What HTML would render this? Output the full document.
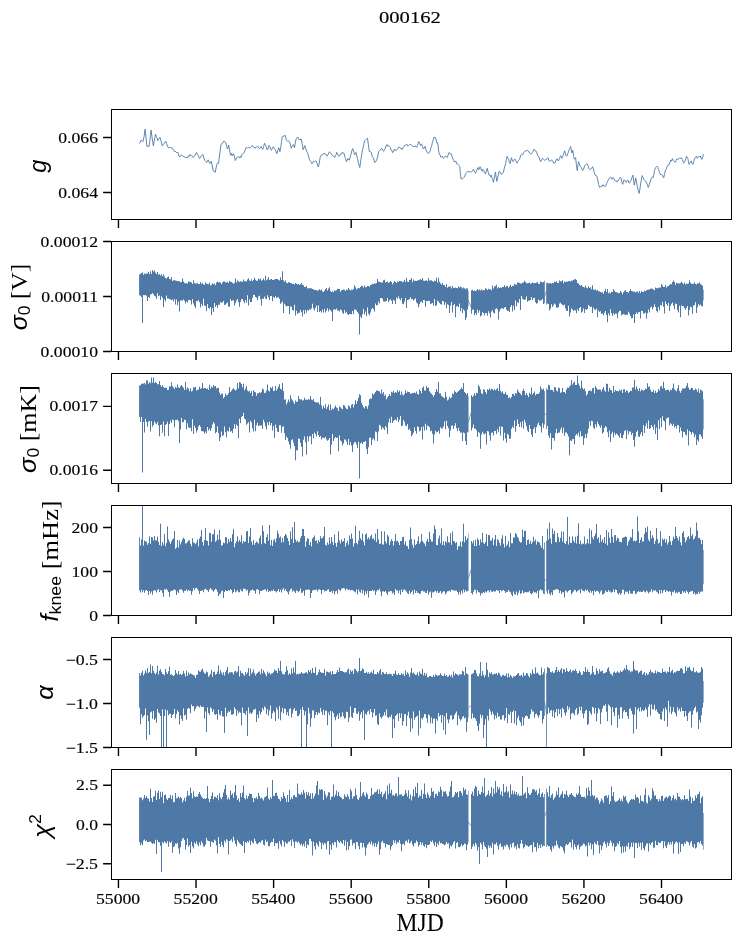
<!DOCTYPE html>
<html lang="en"><head><meta charset="utf-8"><title>000162</title>
<style>
html,body{margin:0;padding:0;background:#ffffff;}
body{width:741px;height:944px;overflow:hidden;}
svg{display:block;}
text{font-family:"Liberation Serif",serif;fill:#000000;}
.tk{font-size:14.8px;stroke:#000;stroke-width:0.16px;}
.ms{font-family:"Liberation Sans",sans-serif;font-style:italic;}
.mr{font-family:"Liberation Sans",sans-serif;font-style:normal;}
.sp{fill:none;stroke:#000000;stroke-width:1.1;shape-rendering:crispEdges;}
.ti{fill:none;stroke:#000000;stroke-width:1.4;}
.bd{fill:#4e79a7;stroke:none;}
.ln{fill:none;stroke:#4e79a7;stroke-width:0.9;stroke-linejoin:round;stroke-linecap:round;}
</style></head><body>
<svg width="741" height="944" viewBox="0 0 741 944">
<rect x="0" y="0" width="741" height="944" fill="#ffffff"/>
<defs>
<clipPath id="c0"><rect x="111.5" y="109.5" width="620.0" height="110.0"/></clipPath>
<clipPath id="c1"><rect x="111.5" y="241.5" width="620.0" height="110.0"/></clipPath>
<clipPath id="c2"><rect x="111.5" y="373.5" width="620.0" height="110.0"/></clipPath>
<clipPath id="c3"><rect x="111.5" y="505.5" width="620.0" height="110.0"/></clipPath>
<clipPath id="c4"><rect x="111.5" y="637.5" width="620.0" height="110.0"/></clipPath>
<clipPath id="c5"><rect x="111.5" y="769.5" width="620.0" height="110.0"/></clipPath>
</defs>
<g clip-path="url(#c0)"><path class="ln" d="M139.7,143.2 140.4,142.0 141.0,140.2 142.0,140.7 142.9,141.6 144.0,136.9 145.1,129.2 146.1,138.1 147.0,146.7 147.7,145.9 148.4,146.5 149.1,146.3 149.8,141.4 150.4,135.7 151.1,130.1 151.9,136.3 152.6,141.1 153.4,145.9 154.1,141.4 154.9,137.4 155.6,134.2 156.3,136.4 157.1,138.2 157.8,140.5 158.5,139.2 159.2,138.7 159.9,137.3 160.7,140.0 161.4,142.0 162.2,146.0 162.9,145.1 163.7,144.2 164.4,143.0 165.2,141.9 165.9,141.3 166.7,143.9 167.5,146.0 168.3,147.7 169.2,147.6 170.0,147.1 170.9,148.1 171.7,147.9 172.6,148.3 173.5,150.2 174.4,151.7 175.2,151.3 176.1,151.8 176.9,152.9 177.7,152.1 178.4,153.9 179.1,156.3 179.8,157.1 180.7,155.6 181.6,155.0 182.5,155.4 183.4,156.6 184.3,156.7 185.2,157.5 186.1,157.2 187.0,157.8 187.9,157.5 188.6,155.8 189.2,156.4 189.9,154.4 190.8,155.0 191.6,156.1 192.5,156.2 193.3,157.5 194.1,156.5 195.0,155.2 195.8,153.5 196.6,152.4 197.4,154.1 198.1,155.3 198.9,157.0 199.6,158.5 200.4,157.7 201.2,156.0 202.0,155.2 202.8,154.4 203.7,157.1 204.5,160.2 205.2,160.8 206.0,161.8 206.7,162.5 207.4,161.1 208.1,159.8 209.0,161.9 209.9,163.5 210.6,162.2 211.2,161.2 212.2,165.7 213.1,170.6 213.8,171.2 214.5,171.3 215.2,172.4 216.2,167.3 217.1,163.5 217.8,163.1 218.5,163.5 219.3,157.1 220.1,151.2 220.9,145.0 221.8,143.5 222.6,143.2 223.5,141.3 224.3,141.3 225.1,141.8 225.8,142.9 226.6,145.8 227.4,149.0 228.1,147.6 228.7,145.0 229.4,149.2 230.1,153.1 230.9,155.4 231.6,153.3 232.4,155.4 233.0,155.1 233.6,153.7 234.5,156.9 235.3,160.5 236.0,159.5 236.7,157.6 237.4,157.1 238.1,156.4 238.9,157.3 239.6,158.1 240.3,156.3 241.0,157.5 241.9,154.9 242.8,153.5 243.5,153.2 244.1,152.7 245.0,150.4 245.9,147.7 246.6,147.7 247.4,148.0 248.1,147.3 248.8,147.8 249.5,147.7 250.4,147.6 251.3,146.4 252.2,145.4 253.1,146.6 254.0,146.8 254.9,148.3 255.8,147.7 256.7,146.8 257.6,145.9 258.3,147.1 259.0,148.3 259.7,148.7 260.4,147.7 261.0,146.3 261.9,148.0 262.7,149.4 263.6,146.5 264.5,143.2 265.4,145.1 266.3,147.1 267.1,150.0 267.8,149.3 268.5,146.6 269.1,145.4 269.9,146.7 270.7,149.4 271.5,150.4 272.5,147.8 273.4,146.7 274.3,148.3 275.2,149.4 276.1,151.8 276.9,153.7 277.9,150.2 278.8,147.7 279.9,151.7 280.7,147.5 281.5,141.7 282.3,136.9 283.2,136.0 284.1,136.3 285.0,135.1 285.8,137.8 286.6,140.5 287.3,141.3 288.0,141.0 288.7,140.9 289.4,141.8 290.0,142.9 290.7,146.0 291.4,148.3 292.1,146.1 292.8,145.2 293.4,144.6 294.5,147.7 295.3,142.9 296.1,138.9 296.9,138.0 297.7,136.9 298.4,138.3 299.0,139.6 299.7,138.9 300.4,140.1 301.1,138.9 301.8,142.2 302.5,145.3 303.1,149.7 304.0,147.7 304.8,145.6 305.5,148.0 306.2,149.9 306.9,151.7 307.8,153.4 308.7,156.9 309.6,159.8 310.4,161.2 311.2,162.2 312.0,163.9 312.8,162.3 313.6,161.2 314.5,161.8 315.4,160.9 316.3,161.2 317.0,163.3 317.7,165.2 318.3,167.0 319.3,162.9 320.2,157.1 321.0,155.9 321.8,154.5 322.5,154.7 323.3,153.7 324.0,153.1 324.8,153.6 325.6,153.8 326.3,155.5 327.0,156.2 327.9,154.9 328.8,152.8 329.7,151.7 330.5,153.2 331.3,153.6 332.1,155.4 333.0,156.1 333.9,156.4 334.8,157.5 335.5,155.2 336.2,154.4 336.8,152.4 337.7,154.5 338.6,156.4 339.4,155.2 340.1,155.3 340.8,154.1 341.5,154.2 342.2,152.4 343.1,153.2 344.0,153.1 344.8,156.7 345.6,158.6 346.3,161.6 347.2,160.1 348.0,158.5 348.7,159.8 349.4,160.2 350.2,156.9 351.0,154.3 351.8,150.9 352.6,148.6 353.4,150.1 354.1,153.3 354.8,154.8 355.4,153.1 356.0,152.4 356.8,156.4 357.6,158.8 358.4,163.2 359.1,165.2 359.8,167.5 360.7,160.9 361.5,155.8 362.3,151.0 363.0,148.3 363.8,144.3 364.5,140.9 365.3,140.4 366.0,139.7 366.8,138.6 367.5,138.2 368.4,144.8 369.3,151.7 370.0,151.8 370.6,151.7 371.4,152.5 372.1,156.2 372.8,157.1 373.7,158.9 374.6,162.5 375.5,162.0 376.4,160.5 377.2,158.3 378.0,155.1 378.7,151.7 379.6,150.7 380.5,149.9 381.4,148.6 382.2,148.9 382.9,150.3 383.6,151.3 384.5,149.7 385.3,148.0 386.2,146.0 387.0,144.6 387.9,146.3 388.7,145.7 389.6,146.6 390.4,147.7 391.2,150.2 391.9,150.3 392.6,152.7 393.5,151.9 394.4,149.0 395.3,150.4 396.2,150.4 397.0,149.7 397.8,148.6 398.5,147.3 399.2,147.4 399.9,147.4 400.6,148.6 401.4,148.1 402.2,149.6 402.9,148.3 403.6,147.1 404.3,146.2 405.0,145.0 405.7,145.0 406.4,144.4 407.0,144.3 407.7,145.9 408.3,145.9 409.3,145.1 410.2,144.0 411.0,144.7 411.8,145.2 412.6,146.3 413.3,146.3 414.0,146.9 414.7,145.9 415.4,146.2 416.1,146.6 416.7,147.4 417.4,145.7 418.1,143.4 418.7,141.6 419.6,143.2 420.5,145.6 421.2,144.2 421.9,144.3 422.6,146.6 423.3,149.0 424.2,148.0 425.2,146.3 426.0,150.0 426.9,152.1 427.8,153.2 428.7,153.1 429.5,152.5 430.3,150.4 431.0,147.5 431.8,145.3 432.5,141.7 433.3,139.7 434.1,136.9 434.7,137.5 435.4,137.5 436.1,139.3 436.8,142.9 437.7,142.9 438.8,152.1 439.4,154.0 440.1,155.0 440.8,157.1 441.5,156.8 442.2,156.2 442.8,157.3 443.5,158.5 444.3,157.2 445.1,156.2 445.8,156.1 446.5,156.8 447.2,157.5 448.0,155.4 448.9,152.7 449.6,152.7 450.4,153.9 451.2,153.7 452.1,156.6 453.0,159.1 453.6,160.4 454.3,162.1 455.1,161.1 455.9,161.2 456.6,163.7 457.3,163.5 458.0,164.5 458.8,165.4 459.7,166.6 460.4,173.4 461.1,179.1 461.8,178.4 462.5,178.9 463.2,178.3 464.0,177.4 464.8,175.8 465.7,173.8 466.5,172.8 467.4,171.6 468.2,171.4 469.0,171.2 469.8,172.3 470.6,172.0 471.5,172.0 472.1,171.4 472.8,170.2 473.5,169.3 474.1,170.9 474.8,171.9 475.5,173.3 476.2,171.8 477.0,169.6 477.8,167.5 478.9,169.7 480.0,166.6 480.7,167.8 481.4,170.4 482.2,171.3 482.9,169.3 483.7,170.3 484.5,172.3 485.4,174.0 486.3,171.1 487.2,168.3 488.1,171.7 489.0,175.1 489.8,175.0 490.7,176.7 491.3,175.1 492.0,178.0 492.7,179.6 493.4,182.3 494.1,178.7 494.8,175.4 495.5,172.0 496.1,176.9 496.8,181.4 497.5,177.9 498.3,175.4 499.1,171.3 499.8,171.4 500.6,172.9 501.4,174.5 502.0,173.4 502.7,173.4 503.4,172.5 504.1,169.0 504.8,166.5 505.6,163.6 506.3,159.7 507.1,156.3 507.8,157.8 508.6,159.4 509.4,162.5 510.2,163.7 510.8,160.1 511.5,157.7 512.2,160.1 512.9,161.7 513.5,160.9 514.2,159.8 514.9,159.0 515.5,160.2 516.2,161.5 516.9,163.1 517.7,161.5 518.4,160.4 519.2,159.6 520.0,158.1 520.8,155.0 521.6,154.3 522.3,154.7 523.0,154.6 523.8,152.4 524.6,151.3 525.5,150.8 526.4,151.2 527.3,150.0 528.0,150.6 528.8,151.3 529.6,153.0 530.4,153.6 531.0,154.0 531.7,153.3 532.4,152.3 533.2,151.2 534.1,149.2 534.8,150.2 535.6,151.4 536.4,151.5 537.2,154.0 537.8,155.5 538.5,157.0 539.2,157.7 540.0,160.2 540.8,161.7 541.7,159.6 542.6,158.1 543.2,158.9 543.9,159.6 544.6,160.4 545.4,159.7 546.3,159.7 547.1,158.7 548.0,157.7 548.8,160.7 549.7,161.3 550.6,161.1 551.5,159.9 552.4,160.4 553.1,161.6 553.9,163.3 554.7,163.1 555.4,162.1 556.2,159.6 557.0,158.6 557.9,160.6 558.8,160.4 559.6,158.4 560.5,155.9 561.2,156.2 561.9,158.3 562.8,156.3 563.7,153.4 564.6,150.9 565.2,152.7 565.9,155.4 566.6,156.3 567.2,155.4 567.9,153.4 568.6,151.3 569.2,149.2 569.9,148.6 570.6,146.5 571.2,149.8 571.8,152.9 572.7,150.2 573.5,155.2 574.3,159.0 574.9,159.0 575.6,157.7 576.4,164.6 577.2,170.5 577.9,165.6 578.6,161.7 579.3,163.8 580.0,165.7 580.7,167.1 581.6,167.9 582.6,170.5 583.3,169.5 584.0,167.8 584.8,165.4 585.5,164.8 586.3,164.1 587.1,163.7 588.0,165.5 588.9,168.6 589.8,169.8 590.7,169.0 591.6,168.6 592.5,166.7 593.4,169.0 594.3,172.8 595.2,175.2 596.0,175.7 596.8,175.9 597.7,179.9 598.6,184.3 599.5,187.4 600.3,187.0 601.2,186.0 602.0,186.5 602.9,184.7 603.5,185.8 604.2,185.6 604.9,186.7 605.7,185.9 606.6,183.5 607.4,181.8 608.3,179.9 609.0,178.4 609.8,177.8 610.6,177.2 611.2,178.1 611.9,179.3 612.6,178.0 613.3,177.5 614.1,179.0 614.9,180.8 615.7,181.0 616.4,180.8 617.0,182.1 617.7,181.3 618.6,179.8 619.5,178.8 620.4,177.2 621.2,178.7 621.9,182.3 622.7,184.3 623.4,182.4 624.1,179.7 624.8,180.4 625.5,181.6 626.2,182.4 627.1,180.6 628.1,180.2 628.8,182.6 629.5,183.3 630.4,181.2 631.2,180.0 632.1,177.1 633.0,175.2 633.6,180.2 634.3,185.1 635.0,182.0 635.7,177.9 636.5,181.9 637.3,186.7 638.2,190.3 639.2,193.4 639.9,189.1 640.6,183.9 641.4,179.7 642.1,175.6 643.0,177.5 644.0,179.7 644.8,180.6 645.6,181.0 646.5,182.7 647.4,184.8 648.3,187.4 649.0,185.6 649.7,183.0 650.5,181.0 651.2,178.6 651.9,177.2 652.5,177.1 653.2,177.5 653.9,174.4 654.5,170.5 655.2,168.1 656.1,167.3 657.0,166.2 657.8,167.2 658.6,169.6 659.4,172.2 660.2,173.9 660.9,175.0 661.6,174.3 662.3,175.3 663.0,176.8 663.7,177.9 664.6,173.7 665.6,169.8 666.3,169.0 666.9,167.0 667.6,165.8 668.3,164.6 669.0,164.8 669.8,162.6 670.7,160.0 671.5,161.2 672.4,158.6 673.3,160.4 674.2,161.5 675.1,162.4 675.9,161.1 676.7,159.0 677.3,159.1 678.0,159.4 678.7,158.8 679.4,158.3 680.1,158.5 680.7,158.4 681.4,157.7 682.2,159.4 682.9,161.1 683.7,163.1 684.3,161.9 685.0,161.0 685.7,159.2 686.4,156.3 687.1,157.1 687.8,158.3 688.4,161.4 689.1,164.4 690.0,162.9 691.0,160.8 691.9,162.9 692.9,164.4 693.7,161.5 694.5,159.0 695.4,157.4 696.3,156.3 697.3,158.3 698.1,157.2 699.0,156.3 699.6,156.6 700.3,155.9 701.0,158.1 701.8,159.4 702.6,157.1 703.4,154.6"/></g>
<g clip-path="url(#c1)">
<path class="bd" d="M139.1,274.4V274.4H140.0V273.8H141.0V272.9H142.0V272.5H143.0V275.0H144.0V273.6H145.0V274.1H146.0V273.5H147.0V273.5H148.0V272.1H149.0V274.3H150.0V271.2H151.0V274.1H152.0V270.2H153.0V271.6H154.0V270.6H155.0V272.7H156.0V274.0H157.0V272.0H158.0V274.8H159.0V274.0H160.0V275.5H161.0V274.3H162.0V276.2H163.0V274.2H164.0V276.5H165.0V277.9H166.0V278.4H167.0V277.3H168.0V276.5H169.0V279.0H170.0V279.2H171.0V277.0H172.0V281.1H173.0V280.3H174.0V280.3H175.0V280.6H176.0V280.7H177.0V281.2H178.0V280.9H179.0V281.3H180.0V282.3H181.0V282.0H182.0V278.4H183.0V281.5H184.0V283.0H185.0V283.4H186.0V282.9H187.0V283.7H188.0V281.5H189.0V281.8H190.0V282.1H191.0V282.6H192.0V283.9H193.0V280.3H194.0V282.9H195.0V283.8H196.0V283.3H197.0V283.2H198.0V284.1H199.0V284.1H200.0V282.1H201.0V284.0H202.0V282.9H203.0V284.5H204.0V284.8H205.0V282.6H206.0V283.6H207.0V283.9H208.0V284.3H209.0V282.4H210.0V285.4H211.0V284.7H212.0V283.3H213.0V284.2H214.0V283.6H215.0V285.2H216.0V282.5H217.0V281.4H218.0V282.6H219.0V282.3H220.0V282.5H221.0V284.2H222.0V282.5H223.0V281.4H224.0V281.4H225.0V282.3H226.0V282.8H227.0V281.7H228.0V283.1H229.0V280.8H230.0V281.8H231.0V282.1H232.0V282.7H233.0V283.7H234.0V282.7H235.0V278.6H236.0V282.5H237.0V280.6H238.0V281.3H239.0V282.1H240.0V281.2H241.0V281.4H242.0V281.7H243.0V279.6H244.0V281.2H245.0V281.2H246.0V281.6H247.0V279.6H248.0V278.3H249.0V280.6H250.0V281.0H251.0V279.2H252.0V281.3H253.0V280.0H254.0V277.7H255.0V279.8H256.0V280.7H257.0V280.7H258.0V278.6H259.0V279.6H260.0V278.5H261.0V280.7H262.0V280.0H263.0V278.4H264.0V280.5H265.0V275.8H266.0V280.3H267.0V279.3H268.0V277.1H269.0V280.0H270.0V279.3H271.0V279.0H272.0V280.1H273.0V280.1H274.0V279.4H275.0V278.9H276.0V279.1H277.0V279.0H278.0V280.0H279.0V280.4H280.0V277.3H281.0V280.0H282.0V271.2H283.0V280.3H284.0V281.8H285.0V280.6H286.0V282.7H287.0V283.3H288.0V282.3H289.0V282.2H290.0V282.9H291.0V283.3H292.0V284.1H293.0V283.8H294.0V284.6H295.0V283.1H296.0V283.7H297.0V284.4H298.0V283.9H299.0V284.9H300.0V284.2H301.0V283.1H302.0V285.1H303.0V285.2H304.0V287.1H305.0V287.0H306.0V286.0H307.0V288.4H308.0V288.3H309.0V288.1H310.0V288.6H311.0V288.3H312.0V289.0H313.0V289.2H314.0V290.1H315.0V289.9H316.0V290.3H317.0V290.8H318.0V290.3H319.0V289.2H320.0V290.3H321.0V289.8H322.0V291.4H323.0V291.9H324.0V290.8H325.0V289.1H326.0V288.0H327.0V290.6H328.0V288.5H329.0V287.2H330.0V291.3H331.0V292.0H332.0V291.3H333.0V292.2H334.0V290.2H335.0V290.7H336.0V290.3H337.0V288.8H338.0V289.1H339.0V289.1H340.0V291.8H341.0V290.2H342.0V290.1H343.0V289.6H344.0V289.7H345.0V291.0H346.0V289.4H347.0V289.9H348.0V288.0H349.0V289.4H350.0V290.6H351.0V289.4H352.0V290.0H353.0V289.0H354.0V285.3H355.0V287.2H356.0V289.4H357.0V288.5H358.0V288.1H359.0V288.2H360.0V287.0H361.0V285.7H362.0V286.1H363.0V287.4H364.0V285.5H365.0V287.2H366.0V287.0H367.0V286.0H368.0V286.1H369.0V286.8H370.0V285.1H371.0V284.8H372.0V283.7H373.0V284.0H374.0V283.6H375.0V283.4H376.0V282.9H377.0V278.9H378.0V281.5H379.0V281.9H380.0V282.3H381.0V282.4H382.0V282.4H383.0V280.3H384.0V279.7H385.0V282.6H386.0V282.1H387.0V281.4H388.0V282.9H389.0V282.3H390.0V281.0H391.0V281.9H392.0V284.4H393.0V282.8H394.0V281.1H395.0V282.1H396.0V283.0H397.0V281.6H398.0V282.0H399.0V281.1H400.0V280.9H401.0V281.2H402.0V282.3H403.0V281.4H404.0V279.8H405.0V282.0H406.0V277.7H407.0V281.5H408.0V281.9H409.0V280.0H410.0V279.8H411.0V278.0H412.0V282.3H413.0V279.5H414.0V281.1H415.0V280.8H416.0V281.0H417.0V280.4H418.0V280.3H419.0V279.7H420.0V278.9H421.0V280.1H422.0V278.0H423.0V280.7H424.0V280.9H425.0V280.4H426.0V280.2H427.0V281.2H428.0V278.1H429.0V280.5H430.0V280.6H431.0V280.3H432.0V281.1H433.0V281.9H434.0V280.8H435.0V281.1H436.0V277.7H437.0V282.4H438.0V277.7H439.0V281.7H440.0V283.3H441.0V284.8H442.0V283.1H443.0V285.1H444.0V284.9H445.0V286.9H446.0V283.9H447.0V287.7H448.0V286.6H449.0V286.8H450.0V286.3H451.0V288.4H452.0V285.9H453.0V287.8H454.0V288.1H455.0V287.4H456.0V287.9H457.0V288.3H458.0V286.2H459.0V287.5H460.0V286.8H461.0V287.3H462.0V288.5H463.0V287.4H464.0V288.3H465.0V289.3H466.0V288.2H467.0V288.5H468.0V290.8H468.5V306.2V306.2H468.0V309.6H467.0V317.5H466.0V320.1H465.0V310.7H464.0V309.4H463.0V313.1H462.0V308.0H461.0V311.2H460.0V303.5H459.0V307.3H458.0V306.0H457.0V306.4H456.0V317.3H455.0V304.0H454.0V305.2H453.0V312.5H452.0V302.1H451.0V305.7H450.0V312.9H449.0V305.0H448.0V304.2H447.0V308.3H446.0V302.5H445.0V304.9H444.0V301.3H443.0V301.1H442.0V304.7H441.0V304.0H440.0V303.0H439.0V301.4H438.0V300.7H437.0V305.2H436.0V306.0H435.0V298.9H434.0V305.5H433.0V303.1H432.0V303.4H431.0V304.1H430.0V301.1H429.0V300.7H428.0V301.2H427.0V301.1H426.0V306.7H425.0V300.2H424.0V300.1H423.0V303.0H422.0V301.5H421.0V302.1H420.0V304.3H419.0V307.2H418.0V303.5H417.0V302.4H416.0V298.2H415.0V299.6H414.0V300.6H413.0V299.0H412.0V299.3H411.0V297.3H410.0V299.0H409.0V299.8H408.0V300.1H407.0V308.1H406.0V298.1H405.0V301.7H404.0V304.2H403.0V303.7H402.0V298.0H401.0V300.3H400.0V298.8H399.0V296.6H398.0V298.7H397.0V297.4H396.0V303.9H395.0V300.8H394.0V299.7H393.0V304.0H392.0V300.8H391.0V299.4H390.0V300.3H389.0V302.0H388.0V297.9H387.0V300.9H386.0V301.4H385.0V301.6H384.0V301.5H383.0V298.8H382.0V298.1H381.0V298.1H380.0V303.2H379.0V301.5H378.0V305.3H377.0V305.2H376.0V303.5H375.0V311.6H374.0V309.1H373.0V307.9H372.0V309.2H371.0V312.5H370.0V315.2H369.0V313.7H368.0V307.6H367.0V316.2H366.0V311.6H365.0V314.6H364.0V309.1H363.0V314.3H362.0V318.0H361.0V316.5H360.0V334.5H359.0V313.7H358.0V312.1H357.0V310.6H356.0V309.4H355.0V309.6H354.0V314.2H353.0V311.1H352.0V314.3H351.0V313.9H350.0V314.1H349.0V314.9H348.0V314.3H347.0V311.8H346.0V313.0H345.0V310.1H344.0V313.7H343.0V312.7H342.0V310.1H341.0V309.4H340.0V311.4H339.0V310.4H338.0V310.4H337.0V308.5H336.0V309.8H335.0V309.3H334.0V309.7H333.0V321.1H332.0V311.4H331.0V310.2H330.0V309.3H329.0V311.5H328.0V308.2H327.0V310.5H326.0V312.6H325.0V309.0H324.0V312.5H323.0V309.6H322.0V312.5H321.0V311.0H320.0V311.9H319.0V305.4H318.0V312.1H317.0V305.5H316.0V307.8H315.0V310.6H314.0V308.6H313.0V303.8H312.0V308.6H311.0V309.7H310.0V309.3H309.0V310.7H308.0V310.0H307.0V312.8H306.0V310.0H305.0V314.0H304.0V310.2H303.0V316.5H302.0V312.2H301.0V310.1H300.0V312.7H299.0V312.8H298.0V314.0H297.0V310.7H296.0V315.5H295.0V304.7H294.0V310.5H293.0V310.0H292.0V306.7H291.0V306.6H290.0V314.2H289.0V306.1H288.0V305.9H287.0V306.5H286.0V305.3H285.0V303.8H284.0V313.1H283.0V301.5H282.0V302.8H281.0V303.8H280.0V299.0H279.0V297.3H278.0V297.4H277.0V297.8H276.0V296.0H275.0V298.3H274.0V297.0H273.0V301.2H272.0V296.0H271.0V296.0H270.0V300.0H269.0V297.2H268.0V295.3H267.0V299.3H266.0V298.6H265.0V296.5H264.0V298.9H263.0V298.4H262.0V305.5H261.0V299.3H260.0V295.8H259.0V296.6H258.0V300.0H257.0V297.8H256.0V297.0H255.0V295.1H254.0V294.7H253.0V298.1H252.0V301.9H251.0V301.9H250.0V299.6H249.0V305.4H248.0V295.3H247.0V302.6H246.0V300.1H245.0V303.3H244.0V301.3H243.0V299.1H242.0V299.3H241.0V301.8H240.0V306.7H239.0V302.3H238.0V299.0H237.0V300.5H236.0V303.0H235.0V305.4H234.0V300.2H233.0V300.5H232.0V301.1H231.0V298.9H230.0V306.8H229.0V306.4H228.0V302.4H227.0V303.5H226.0V304.4H225.0V305.1H224.0V301.0H223.0V302.6H222.0V302.4H221.0V302.3H220.0V304.8H219.0V304.8H218.0V307.7H217.0V305.2H216.0V307.1H215.0V303.1H214.0V312.0H213.0V308.2H212.0V314.9H211.0V307.1H210.0V308.7H209.0V308.0H208.0V304.1H207.0V311.2H206.0V305.9H205.0V305.6H204.0V298.8H203.0V306.0H202.0V303.7H201.0V307.4H200.0V302.2H199.0V300.2H198.0V301.3H197.0V301.1H196.0V308.2H195.0V306.1H194.0V303.6H193.0V299.0H192.0V304.4H191.0V300.5H190.0V300.1H189.0V299.9H188.0V302.6H187.0V301.5H186.0V303.2H185.0V300.8H184.0V299.4H183.0V300.4H182.0V300.4H181.0V300.5H180.0V311.6H179.0V301.7H178.0V305.2H177.0V299.6H176.0V304.5H175.0V299.3H174.0V301.5H173.0V299.6H172.0V300.1H171.0V299.6H170.0V298.9H169.0V298.4H168.0V298.4H167.0V295.6H166.0V301.6H165.0V299.5H164.0V307.3H163.0V298.1H162.0V296.3H161.0V299.9H160.0V295.6H159.0V296.2H158.0V293.3H157.0V298.9H156.0V296.4H155.0V295.7H154.0V294.3H153.0V293.0H152.0V294.1H151.0V294.8H150.0V298.0H149.0V297.1H148.0V301.1H147.0V295.8H146.0V295.0H145.0V295.3H144.0V295.0H143.0V323.0H142.0V297.0H141.0V295.7H140.0V295.3H139.1Z"/>
<path class="bd" d="M471.0,290.2V290.2H472.0V289.7H473.0V291.0H474.0V290.4H475.0V290.9H476.0V290.6H477.0V289.0H478.0V290.3H479.0V289.4H480.0V290.4H481.0V289.4H482.0V290.4H483.0V289.9H484.0V290.3H485.0V288.2H486.0V288.7H487.0V290.0H488.0V288.8H489.0V289.4H490.0V289.3H491.0V290.2H492.0V285.6H493.0V288.5H494.0V286.6H495.0V285.9H496.0V284.7H497.0V288.6H498.0V287.1H499.0V288.1H500.0V287.5H501.0V287.7H502.0V287.1H503.0V287.1H504.0V285.3H505.0V287.2H506.0V286.1H507.0V285.9H508.0V287.8H509.0V286.4H510.0V284.8H511.0V286.8H512.0V285.8H513.0V286.0H514.0V283.7H515.0V284.6H516.0V284.8H517.0V282.4H518.0V282.5H519.0V282.9H520.0V283.5H521.0V283.6H522.0V282.7H523.0V282.5H524.0V280.8H525.0V282.0H526.0V283.3H527.0V283.3H528.0V282.9H529.0V282.5H530.0V284.1H531.0V283.3H532.0V282.4H533.0V283.1H534.0V283.3H535.0V283.0H536.0V282.7H537.0V282.0H538.0V283.7H539.0V284.1H540.0V281.3H541.0V282.1H542.0V282.6H543.0V282.1H544.0V280.7H544.8V303.3V303.3H544.0V303.9H543.0V298.9H542.0V300.3H541.0V300.6H540.0V300.7H539.0V299.6H538.0V302.9H537.0V303.7H536.0V302.3H535.0V297.7H534.0V298.2H533.0V300.0H532.0V296.9H531.0V300.0H530.0V300.6H529.0V300.8H528.0V301.8H527.0V296.6H526.0V299.2H525.0V300.1H524.0V299.4H523.0V298.7H522.0V296.1H521.0V310.0H520.0V299.0H519.0V303.1H518.0V302.3H517.0V306.3H516.0V300.5H515.0V310.0H514.0V305.8H513.0V311.6H512.0V305.0H511.0V306.9H510.0V312.0H509.0V310.8H508.0V310.9H507.0V309.8H506.0V307.1H505.0V307.5H504.0V309.0H503.0V308.2H502.0V308.3H501.0V309.2H500.0V311.4H499.0V319.4H498.0V309.4H497.0V308.2H496.0V308.9H495.0V313.5H494.0V312.7H493.0V310.3H492.0V311.4H491.0V317.6H490.0V313.3H489.0V311.2H488.0V315.7H487.0V313.2H486.0V313.0H485.0V315.4H484.0V313.0H483.0V312.2H482.0V315.5H481.0V316.5H480.0V310.4H479.0V312.8H478.0V309.8H477.0V314.7H476.0V313.1H475.0V315.3H474.0V309.4H473.0V309.8H472.0V313.7H471.0Z"/>
<path class="bd" d="M546.2,282.8V282.8H547.0V282.7H548.0V283.5H549.0V283.2H550.0V283.1H551.0V283.7H552.0V282.9H553.0V283.3H554.0V281.7H555.0V282.0H556.0V281.3H557.0V282.9H558.0V283.1H559.0V280.6H560.0V281.3H561.0V281.2H562.0V280.3H563.0V283.2H564.0V281.6H565.0V281.9H566.0V281.5H567.0V281.7H568.0V281.1H569.0V281.2H570.0V281.4H571.0V280.5H572.0V280.7H573.0V280.0H574.0V279.1H575.0V279.3H576.0V280.0H577.0V283.1H578.0V283.4H579.0V284.8H580.0V285.8H581.0V284.9H582.0V286.4H583.0V286.9H584.0V287.6H585.0V285.6H586.0V287.7H587.0V288.3H588.0V286.3H589.0V288.0H590.0V286.9H591.0V289.3H592.0V285.2H593.0V289.6H594.0V289.8H595.0V289.6H596.0V290.4H597.0V289.9H598.0V291.6H599.0V291.2H600.0V292.1H601.0V292.2H602.0V292.4H603.0V293.7H604.0V290.9H605.0V288.7H606.0V291.9H607.0V289.0H608.0V293.3H609.0V292.5H610.0V293.6H611.0V291.8H612.0V292.0H613.0V289.2H614.0V290.8H615.0V291.9H616.0V292.2H617.0V292.4H618.0V293.2H619.0V292.9H620.0V291.1H621.0V292.2H622.0V294.2H623.0V292.3H624.0V291.0H625.0V290.1H626.0V292.0H627.0V292.3H628.0V292.5H629.0V290.9H630.0V289.1H631.0V291.1H632.0V291.3H633.0V291.8H634.0V291.6H635.0V292.5H636.0V291.8H637.0V291.3H638.0V292.7H639.0V291.1H640.0V292.9H641.0V291.0H642.0V292.0H643.0V291.9H644.0V290.6H645.0V291.2H646.0V290.2H647.0V289.7H648.0V289.8H649.0V289.2H650.0V288.8H651.0V288.4H652.0V288.8H653.0V289.5H654.0V290.3H655.0V287.5H656.0V287.9H657.0V288.6H658.0V287.7H659.0V287.6H660.0V287.4H661.0V283.9H662.0V285.6H663.0V286.9H664.0V287.0H665.0V284.8H666.0V287.5H667.0V286.2H668.0V286.0H669.0V284.9H670.0V283.9H671.0V284.2H672.0V281.9H673.0V280.6H674.0V282.1H675.0V285.0H676.0V282.8H677.0V283.2H678.0V283.2H679.0V283.4H680.0V282.9H681.0V281.8H682.0V283.1H683.0V284.2H684.0V282.4H685.0V284.4H686.0V283.6H687.0V283.9H688.0V283.6H689.0V280.3H690.0V282.8H691.0V283.7H692.0V284.1H693.0V283.7H694.0V282.5H695.0V284.1H696.0V284.5H697.0V283.2H698.0V283.4H699.0V282.6H700.0V283.9H701.0V284.8H702.0V285.8H703.0V289.6H703.6V300.6V300.6H703.0V306.4H702.0V306.1H701.0V304.6H700.0V305.4H699.0V304.3H698.0V307.2H697.0V313.0H696.0V302.3H695.0V305.0H694.0V305.6H693.0V313.8H692.0V307.2H691.0V306.8H690.0V310.1H689.0V315.5H688.0V306.0H687.0V307.7H686.0V309.7H685.0V308.3H684.0V306.3H683.0V306.3H682.0V305.4H681.0V317.3H680.0V305.8H679.0V312.6H678.0V310.2H677.0V304.0H676.0V303.5H675.0V309.3H674.0V305.7H673.0V302.6H672.0V303.8H671.0V305.9H670.0V310.9H669.0V303.1H668.0V305.7H667.0V303.9H666.0V301.6H665.0V313.5H664.0V306.7H663.0V302.1H662.0V305.8H661.0V304.9H660.0V310.4H659.0V307.3H658.0V312.5H657.0V311.0H656.0V306.9H655.0V304.2H654.0V307.2H653.0V309.2H652.0V306.6H651.0V307.4H650.0V312.6H649.0V309.6H648.0V313.3H647.0V318.7H646.0V312.4H645.0V313.5H644.0V313.6H643.0V311.1H642.0V310.8H641.0V318.5H640.0V312.1H639.0V312.3H638.0V314.0H637.0V312.4H636.0V314.1H635.0V323.0H634.0V314.4H633.0V318.0H632.0V318.3H631.0V316.1H630.0V313.5H629.0V311.8H628.0V315.0H627.0V314.5H626.0V315.2H625.0V314.5H624.0V313.9H623.0V314.6H622.0V315.5H621.0V310.9H620.0V310.8H619.0V312.6H618.0V318.3H617.0V313.8H616.0V313.6H615.0V314.8H614.0V313.2H613.0V316.1H612.0V313.2H611.0V309.2H610.0V315.6H609.0V313.2H608.0V322.2H607.0V314.9H606.0V310.9H605.0V312.7H604.0V315.3H603.0V313.6H602.0V313.9H601.0V311.3H600.0V312.1H599.0V310.4H598.0V317.3H597.0V308.4H596.0V310.0H595.0V309.5H594.0V307.8H593.0V312.9H592.0V306.7H591.0V307.0H590.0V306.3H589.0V305.0H588.0V309.1H587.0V309.7H586.0V309.2H585.0V313.0H584.0V308.6H583.0V311.4H582.0V312.4H581.0V307.1H580.0V308.0H579.0V311.0H578.0V309.3H577.0V313.3H576.0V310.5H575.0V310.1H574.0V311.0H573.0V309.5H572.0V308.5H571.0V312.6H570.0V316.5H569.0V305.7H568.0V311.1H567.0V310.8H566.0V308.4H565.0V304.6H564.0V305.5H563.0V305.0H562.0V303.9H561.0V302.8H560.0V303.6H559.0V307.3H558.0V307.4H557.0V307.8H556.0V304.6H555.0V303.6H554.0V305.3H553.0V307.0H552.0V304.2H551.0V308.7H550.0V310.4H549.0V304.0H548.0V303.6H547.0V304.6H546.2Z"/>
<path class="ln" style="stroke-width:0.7" d="M468.2,300.4 L471.3,307.6"/>
<path class="ln" style="stroke-width:0.7" d="M544.5,296.8 L546.5,290.6"/>
</g>
<g clip-path="url(#c2)">
<path class="bd" d="M139.1,385.5V385.5H140.0V385.2H141.0V384.1H142.0V383.2H143.0V383.8H144.0V383.0H145.0V384.5H146.0V380.6H147.0V380.5H148.0V383.7H149.0V382.0H150.0V383.3H151.0V377.6H152.0V382.4H153.0V377.6H154.0V383.0H155.0V381.9H156.0V383.1H157.0V384.2H158.0V384.2H159.0V381.1H160.0V385.0H161.0V386.8H162.0V385.3H163.0V387.1H164.0V388.1H165.0V387.7H166.0V387.7H167.0V389.9H168.0V389.7H169.0V386.3H170.0V386.4H171.0V382.3H172.0V386.3H173.0V387.5H174.0V389.0H175.0V386.7H176.0V387.7H177.0V384.5H178.0V387.4H179.0V388.0H180.0V386.3H181.0V384.9H182.0V386.6H183.0V387.7H184.0V389.9H185.0V382.0H186.0V389.5H187.0V387.3H188.0V388.4H189.0V391.2H190.0V388.2H191.0V391.5H192.0V390.8H193.0V387.3H194.0V387.4H195.0V386.7H196.0V390.5H197.0V389.8H198.0V389.7H199.0V386.7H200.0V388.7H201.0V388.2H202.0V383.1H203.0V388.6H204.0V388.1H205.0V387.9H206.0V388.9H207.0V388.6H208.0V390.1H209.0V384.8H210.0V388.8H211.0V386.8H212.0V387.5H213.0V385.0H214.0V386.5H215.0V385.9H216.0V388.5H217.0V388.1H218.0V387.8H219.0V392.6H220.0V395.1H221.0V393.8H222.0V393.4H223.0V398.2H224.0V396.9H225.0V393.6H226.0V395.3H227.0V395.1H228.0V393.2H229.0V387.0H230.0V391.9H231.0V390.4H232.0V389.3H233.0V388.3H234.0V389.6H235.0V390.5H236.0V389.6H237.0V383.1H238.0V388.3H239.0V381.9H240.0V382.6H241.0V384.1H242.0V387.3H243.0V383.8H244.0V390.2H245.0V388.4H246.0V385.9H247.0V390.4H248.0V391.5H249.0V390.8H250.0V393.1H251.0V390.9H252.0V396.0H253.0V390.2H254.0V391.7H255.0V392.3H256.0V395.7H257.0V393.3H258.0V393.2H259.0V392.3H260.0V392.9H261.0V391.8H262.0V388.6H263.0V389.5H264.0V393.1H265.0V392.8H266.0V390.4H267.0V384.6H268.0V390.4H269.0V391.4H270.0V387.2H271.0V388.3H272.0V386.4H273.0V390.9H274.0V390.8H275.0V386.1H276.0V390.4H277.0V388.7H278.0V386.8H279.0V384.2H280.0V388.7H281.0V389.5H282.0V383.0H283.0V391.0H284.0V399.8H285.0V399.3H286.0V404.6H287.0V402.3H288.0V399.5H289.0V401.8H290.0V395.2H291.0V398.7H292.0V400.2H293.0V401.9H294.0V404.1H295.0V400.5H296.0V402.1H297.0V401.6H298.0V396.1H299.0V399.1H300.0V399.4H301.0V399.3H302.0V400.6H303.0V400.2H304.0V397.8H305.0V399.8H306.0V399.5H307.0V400.0H308.0V398.9H309.0V399.7H310.0V395.9H311.0V399.5H312.0V400.3H313.0V399.0H314.0V401.7H315.0V402.2H316.0V402.4H317.0V402.5H318.0V402.6H319.0V404.4H320.0V397.1H321.0V405.6H322.0V408.8H323.0V405.7H324.0V408.1H325.0V404.2H326.0V409.1H327.0V407.0H328.0V404.4H329.0V410.2H330.0V404.6H331.0V410.3H332.0V408.6H333.0V409.3H334.0V407.4H335.0V405.6H336.0V407.4H337.0V408.2H338.0V410.9H339.0V406.5H340.0V407.3H341.0V408.4H342.0V409.3H343.0V404.9H344.0V405.4H345.0V407.5H346.0V408.8H347.0V409.2H348.0V405.6H349.0V406.2H350.0V408.2H351.0V404.8H352.0V404.1H353.0V407.5H354.0V404.4H355.0V400.3H356.0V403.7H357.0V401.0H358.0V397.7H359.0V394.3H360.0V395.2H361.0V402.7H362.0V404.9H363.0V407.2H364.0V408.4H365.0V406.1H366.0V406.6H367.0V408.8H368.0V405.5H369.0V399.3H370.0V398.5H371.0V398.5H372.0V393.6H373.0V394.7H374.0V393.4H375.0V392.0H376.0V390.4H377.0V390.6H378.0V390.9H379.0V391.4H380.0V393.6H381.0V389.4H382.0V393.7H383.0V391.9H384.0V395.8H385.0V394.4H386.0V399.2H387.0V397.2H388.0V396.0H389.0V394.1H390.0V395.9H391.0V391.8H392.0V392.6H393.0V390.7H394.0V393.0H395.0V392.1H396.0V392.7H397.0V390.1H398.0V392.1H399.0V390.6H400.0V394.9H401.0V391.5H402.0V394.4H403.0V395.5H404.0V394.0H405.0V390.3H406.0V393.0H407.0V391.5H408.0V392.0H409.0V391.9H410.0V393.7H411.0V393.6H412.0V393.0H413.0V393.1H414.0V392.5H415.0V393.2H416.0V391.5H417.0V393.9H418.0V394.6H419.0V389.5H420.0V391.0H421.0V393.3H422.0V387.8H423.0V386.4H424.0V390.4H425.0V390.4H426.0V386.1H427.0V387.9H428.0V387.4H429.0V391.3H430.0V392.7H431.0V393.8H432.0V394.9H433.0V396.7H434.0V395.0H435.0V391.9H436.0V389.1H437.0V391.5H438.0V381.9H439.0V393.5H440.0V393.5H441.0V395.9H442.0V396.7H443.0V397.6H444.0V398.2H445.0V391.8H446.0V396.7H447.0V400.6H448.0V399.6H449.0V396.8H450.0V398.2H451.0V397.6H452.0V393.5H453.0V394.3H454.0V390.7H455.0V391.9H456.0V393.1H457.0V391.8H458.0V391.2H459.0V389.9H460.0V389.3H461.0V387.5H462.0V388.9H463.0V383.0H464.0V392.0H465.0V392.9H466.0V394.4H467.0V393.1H468.0V396.2H468.5V432.6V432.6H468.0V432.2H467.0V444.9H466.0V440.9H465.0V433.2H464.0V432.5H463.0V440.9H462.0V432.5H461.0V432.8H460.0V430.9H459.0V428.0H458.0V431.3H457.0V428.2H456.0V423.3H455.0V425.9H454.0V429.1H453.0V425.5H452.0V425.7H451.0V430.5H450.0V437.2H449.0V428.3H448.0V425.9H447.0V420.8H446.0V429.2H445.0V421.5H444.0V426.6H443.0V428.4H442.0V428.5H441.0V427.2H440.0V433.8H439.0V430.8H438.0V432.0H437.0V432.5H436.0V430.8H435.0V434.6H434.0V443.4H433.0V433.8H432.0V430.5H431.0V431.2H430.0V427.2H429.0V425.9H428.0V425.4H427.0V429.9H426.0V423.7H425.0V430.4H424.0V426.4H423.0V439.6H422.0V426.9H421.0V430.5H420.0V431.4H419.0V427.0H418.0V426.4H417.0V433.8H416.0V430.9H415.0V427.2H414.0V432.8H413.0V434.8H412.0V436.2H411.0V431.1H410.0V428.8H409.0V429.9H408.0V424.1H407.0V426.3H406.0V425.6H405.0V421.8H404.0V420.0H403.0V425.7H402.0V426.0H401.0V416.0H400.0V419.8H399.0V422.0H398.0V417.2H397.0V420.6H396.0V419.5H395.0V420.1H394.0V420.9H393.0V423.0H392.0V416.7H391.0V423.1H390.0V418.4H389.0V422.4H388.0V433.9H387.0V427.4H386.0V426.1H385.0V429.9H384.0V428.4H383.0V427.2H382.0V429.5H381.0V425.8H380.0V424.8H379.0V431.4H378.0V440.9H377.0V432.2H376.0V431.4H375.0V440.6H374.0V438.2H373.0V439.5H372.0V444.9H371.0V437.4H370.0V437.7H369.0V447.2H368.0V454.0H367.0V449.1H366.0V441.0H365.0V441.9H364.0V441.9H363.0V444.1H362.0V442.5H361.0V443.6H360.0V478.4H359.0V441.7H358.0V447.9H357.0V444.5H356.0V442.1H355.0V442.3H354.0V444.2H353.0V451.9H352.0V445.6H351.0V442.0H350.0V445.1H349.0V438.9H348.0V444.8H347.0V441.4H346.0V439.6H345.0V439.5H344.0V443.4H343.0V445.4H342.0V441.4H341.0V440.5H340.0V435.5H339.0V451.3H338.0V437.6H337.0V438.1H336.0V436.9H335.0V438.5H334.0V441.0H333.0V434.1H332.0V444.8H331.0V454.6H330.0V438.1H329.0V439.8H328.0V440.8H327.0V439.6H326.0V436.9H325.0V438.2H324.0V437.7H323.0V437.8H322.0V439.6H321.0V436.0H320.0V437.0H319.0V435.0H318.0V431.2H317.0V436.5H316.0V434.2H315.0V432.5H314.0V438.2H313.0V434.1H312.0V444.2H311.0V436.2H310.0V436.4H309.0V441.2H308.0V436.2H307.0V454.8H306.0V442.2H305.0V436.4H304.0V439.7H303.0V456.4H302.0V446.7H301.0V442.7H300.0V439.1H299.0V438.4H298.0V450.2H297.0V450.3H296.0V460.3H295.0V446.0H294.0V442.8H293.0V439.3H292.0V440.2H291.0V448.7H290.0V444.5H289.0V441.6H288.0V438.1H287.0V436.6H286.0V440.0H285.0V433.0H284.0V426.5H283.0V426.7H282.0V432.7H281.0V425.2H280.0V425.2H279.0V431.9H278.0V431.5H277.0V428.1H276.0V424.5H275.0V438.0H274.0V426.3H273.0V430.5H272.0V423.1H271.0V425.5H270.0V421.8H269.0V424.9H268.0V422.2H267.0V429.6H266.0V426.2H265.0V422.2H264.0V419.7H263.0V428.9H262.0V425.4H261.0V425.4H260.0V425.5H259.0V426.0H258.0V422.8H257.0V425.3H256.0V431.2H255.0V419.8H254.0V431.4H253.0V428.3H252.0V422.4H251.0V420.7H250.0V432.4H249.0V422.3H248.0V423.5H247.0V424.7H246.0V419.4H245.0V418.6H244.0V412.7H243.0V415.9H242.0V416.9H241.0V423.2H240.0V418.7H239.0V438.3H238.0V426.0H237.0V424.6H236.0V428.7H235.0V424.2H234.0V428.8H233.0V433.1H232.0V431.0H231.0V431.8H230.0V427.4H229.0V431.4H228.0V430.8H227.0V437.2H226.0V432.2H225.0V426.4H224.0V435.2H223.0V436.1H222.0V431.5H221.0V437.4H220.0V440.9H219.0V433.1H218.0V426.2H217.0V432.1H216.0V433.3H215.0V423.4H214.0V422.0H213.0V424.4H212.0V428.3H211.0V430.9H210.0V428.7H209.0V430.6H208.0V427.0H207.0V433.2H206.0V431.4H205.0V433.7H204.0V431.4H203.0V431.2H202.0V431.0H201.0V426.8H200.0V425.1H199.0V426.6H198.0V429.9H197.0V432.4H196.0V428.1H195.0V425.7H194.0V434.0H193.0V419.3H192.0V431.2H191.0V427.8H190.0V428.1H189.0V427.3H188.0V423.2H187.0V429.3H186.0V420.1H185.0V419.8H184.0V422.1H183.0V422.5H182.0V417.9H181.0V429.4H180.0V443.0H179.0V421.2H178.0V419.4H177.0V419.9H176.0V420.0H175.0V427.2H174.0V420.3H173.0V419.5H172.0V423.0H171.0V420.8H170.0V424.0H169.0V436.0H168.0V421.7H167.0V423.9H166.0V424.9H165.0V436.3H164.0V421.5H163.0V432.8H162.0V424.6H161.0V425.1H160.0V436.3H159.0V425.4H158.0V422.1H157.0V424.3H156.0V423.3H155.0V421.6H154.0V424.9H153.0V426.6H152.0V421.3H151.0V431.6H150.0V421.0H149.0V421.6H148.0V426.8H147.0V422.0H146.0V419.0H145.0V432.6H144.0V421.9H143.0V472.6H142.0V417.0H141.0V422.0H140.0V416.7H139.1Z"/>
<path class="bd" d="M471.0,395.3V395.3H472.0V396.9H473.0V395.8H474.0V393.2H475.0V395.4H476.0V392.7H477.0V393.0H478.0V385.0H479.0V386.8H480.0V389.5H481.0V393.2H482.0V394.0H483.0V389.2H484.0V390.0H485.0V392.0H486.0V393.7H487.0V389.2H488.0V389.9H489.0V388.3H490.0V390.3H491.0V388.8H492.0V389.3H493.0V390.5H494.0V389.2H495.0V390.2H496.0V389.3H497.0V388.0H498.0V390.9H499.0V384.0H500.0V390.7H501.0V392.4H502.0V391.2H503.0V393.7H504.0V394.1H505.0V391.7H506.0V394.7H507.0V394.8H508.0V397.9H509.0V397.3H510.0V398.4H511.0V397.0H512.0V394.0H513.0V393.8H514.0V395.8H515.0V392.9H516.0V393.6H517.0V389.4H518.0V391.6H519.0V392.8H520.0V393.7H521.0V395.2H522.0V390.9H523.0V388.8H524.0V390.9H525.0V395.2H526.0V392.9H527.0V395.1H528.0V396.9H529.0V392.7H530.0V394.2H531.0V387.4H532.0V394.6H533.0V393.0H534.0V391.5H535.0V395.3H536.0V393.9H537.0V393.8H538.0V393.9H539.0V392.4H540.0V386.6H541.0V388.8H542.0V389.8H543.0V388.6H544.0V390.9H544.8V424.4V424.4H544.0V427.8H543.0V423.2H542.0V432.6H541.0V426.5H540.0V425.2H539.0V422.4H538.0V424.6H537.0V427.3H536.0V433.0H535.0V427.2H534.0V429.1H533.0V437.0H532.0V434.4H531.0V429.1H530.0V425.1H529.0V432.1H528.0V430.4H527.0V426.2H526.0V422.6H525.0V419.7H524.0V428.7H523.0V421.2H522.0V427.3H521.0V422.3H520.0V427.0H519.0V424.1H518.0V419.5H517.0V426.0H516.0V431.7H515.0V420.5H514.0V428.1H513.0V426.5H512.0V428.8H511.0V438.4H510.0V439.0H509.0V434.8H508.0V433.8H507.0V442.7H506.0V438.6H505.0V432.7H504.0V440.6H503.0V427.1H502.0V426.5H501.0V435.4H500.0V426.5H499.0V432.3H498.0V429.3H497.0V434.0H496.0V431.0H495.0V431.0H494.0V435.4H493.0V432.4H492.0V432.8H491.0V440.7H490.0V435.6H489.0V431.5H488.0V430.9H487.0V444.5H486.0V433.2H485.0V434.6H484.0V433.4H483.0V431.7H482.0V434.7H481.0V448.8H480.0V433.0H479.0V431.9H478.0V436.9H477.0V430.2H476.0V428.4H475.0V428.9H474.0V424.6H473.0V427.7H472.0V430.6H471.0Z"/>
<path class="bd" d="M546.2,388.2V388.2H547.0V389.8H548.0V384.8H549.0V385.5H550.0V390.1H551.0V389.7H552.0V389.9H553.0V391.8H554.0V387.0H555.0V387.3H556.0V390.6H557.0V391.4H558.0V387.5H559.0V388.3H560.0V392.7H561.0V392.3H562.0V388.0H563.0V392.0H564.0V391.9H565.0V393.6H566.0V389.5H567.0V387.4H568.0V388.0H569.0V386.6H570.0V385.6H571.0V380.0H572.0V384.6H573.0V382.8H574.0V381.4H575.0V385.1H576.0V384.9H577.0V375.4H578.0V383.6H579.0V385.7H580.0V388.5H581.0V380.4H582.0V387.7H583.0V389.5H584.0V388.6H585.0V391.3H586.0V395.6H587.0V394.0H588.0V391.0H589.0V390.4H590.0V390.6H591.0V391.3H592.0V388.3H593.0V387.7H594.0V393.4H595.0V385.9H596.0V388.0H597.0V389.4H598.0V389.4H599.0V389.5H600.0V389.8H601.0V391.6H602.0V389.0H603.0V387.1H604.0V390.6H605.0V391.8H606.0V383.5H607.0V383.9H608.0V391.4H609.0V387.8H610.0V389.7H611.0V390.2H612.0V392.9H613.0V386.0H614.0V391.7H615.0V390.1H616.0V390.9H617.0V390.9H618.0V391.6H619.0V389.7H620.0V390.8H621.0V389.6H622.0V392.9H623.0V389.6H624.0V389.3H625.0V392.2H626.0V390.2H627.0V390.9H628.0V392.9H629.0V392.0H630.0V390.7H631.0V390.9H632.0V387.4H633.0V387.4H634.0V379.7H635.0V389.4H636.0V386.2H637.0V389.1H638.0V391.0H639.0V387.9H640.0V391.2H641.0V389.4H642.0V389.9H643.0V390.8H644.0V390.0H645.0V388.6H646.0V389.1H647.0V383.3H648.0V387.1H649.0V386.3H650.0V389.7H651.0V391.7H652.0V392.1H653.0V390.1H654.0V393.1H655.0V390.8H656.0V393.1H657.0V392.1H658.0V389.0H659.0V390.6H660.0V386.5H661.0V385.9H662.0V388.4H663.0V381.7H664.0V388.1H665.0V390.3H666.0V389.9H667.0V389.8H668.0V389.8H669.0V391.5H670.0V389.8H671.0V390.2H672.0V388.1H673.0V383.6H674.0V389.3H675.0V390.5H676.0V391.3H677.0V388.5H678.0V385.0H679.0V390.8H680.0V392.7H681.0V390.7H682.0V388.5H683.0V388.6H684.0V388.5H685.0V387.9H686.0V385.7H687.0V383.1H688.0V387.5H689.0V389.7H690.0V389.3H691.0V387.8H692.0V387.9H693.0V390.3H694.0V389.9H695.0V388.5H696.0V389.4H697.0V391.7H698.0V388.6H699.0V393.0H700.0V389.4H701.0V390.3H702.0V391.2H703.0V399.2H703.6V429.6V429.6H703.0V438.9H702.0V436.7H701.0V434.4H700.0V434.6H699.0V441.7H698.0V439.7H697.0V445.0H696.0V434.7H695.0V437.3H694.0V433.3H693.0V432.0H692.0V434.6H691.0V431.9H690.0V431.0H689.0V445.6H688.0V429.6H687.0V435.6H686.0V434.5H685.0V432.0H684.0V431.7H683.0V437.6H682.0V431.0H681.0V427.4H680.0V432.4H679.0V425.6H678.0V425.0H677.0V428.4H676.0V426.0H675.0V427.6H674.0V423.8H673.0V426.1H672.0V424.3H671.0V423.2H670.0V425.6H669.0V417.6H668.0V417.7H667.0V418.6H666.0V430.3H665.0V421.4H664.0V420.5H663.0V416.2H662.0V427.3H661.0V417.9H660.0V429.0H659.0V420.2H658.0V440.0H657.0V427.8H656.0V433.9H655.0V424.4H654.0V429.8H653.0V427.1H652.0V425.1H651.0V428.3H650.0V429.0H649.0V420.6H648.0V428.6H647.0V423.3H646.0V426.3H645.0V433.1H644.0V424.9H643.0V436.1H642.0V432.0H641.0V434.3H640.0V437.0H639.0V436.6H638.0V430.4H637.0V431.9H636.0V436.8H635.0V446.7H634.0V439.9H633.0V432.9H632.0V435.1H631.0V431.5H630.0V431.4H629.0V434.5H628.0V430.6H627.0V439.3H626.0V430.2H625.0V431.1H624.0V434.7H623.0V437.9H622.0V437.9H621.0V433.2H620.0V437.4H619.0V435.7H618.0V434.4H617.0V433.4H616.0V435.0H615.0V432.7H614.0V437.4H613.0V431.8H612.0V433.9H611.0V442.0H610.0V430.4H609.0V437.2H608.0V432.3H607.0V427.3H606.0V426.1H605.0V428.0H604.0V432.3H603.0V433.5H602.0V425.4H601.0V427.7H600.0V426.0H599.0V424.1H598.0V421.8H597.0V427.2H596.0V424.3H595.0V429.0H594.0V427.4H593.0V421.3H592.0V420.8H591.0V425.8H590.0V421.6H589.0V428.7H588.0V433.3H587.0V438.0H586.0V434.3H585.0V438.2H584.0V444.9H583.0V436.0H582.0V436.5H581.0V431.3H580.0V437.0H579.0V432.7H578.0V435.2H577.0V434.0H576.0V435.6H575.0V444.3H574.0V439.1H573.0V439.2H572.0V441.0H571.0V440.6H570.0V455.3H569.0V436.5H568.0V434.1H567.0V432.4H566.0V432.4H565.0V435.7H564.0V427.8H563.0V433.2H562.0V427.4H561.0V429.5H560.0V432.4H559.0V432.7H558.0V433.6H557.0V428.7H556.0V433.1H555.0V440.7H554.0V438.1H553.0V438.0H552.0V449.5H551.0V433.2H550.0V438.1H549.0V435.5H548.0V425.9H547.0V429.0H546.2Z"/>
<path class="ln" style="stroke-width:0.7" d="M468.2,422.6 L471.3,412.4"/>
<path class="ln" style="stroke-width:0.7" d="M544.5,415.4 L546.5,413.2"/>
</g>
<g clip-path="url(#c3)">
<path class="bd" d="M139.1,537.3V537.3H140.0V545.4H141.0V539.6H142.0V505.5H143.0V545.4H144.0V540.5H145.0V541.4H146.0V541.5H147.0V544.8H148.0V543.0H149.0V536.3H150.0V543.8H151.0V537.0H152.0V537.4H153.0V540.5H154.0V536.1H155.0V540.3H156.0V540.4H157.0V536.5H158.0V541.8H159.0V545.1H160.0V523.8H161.0V545.9H162.0V542.0H163.0V544.8H164.0V534.0H165.0V546.3H166.0V542.9H167.0V526.4H168.0V539.4H169.0V541.7H170.0V544.0H171.0V541.3H172.0V539.6H173.0V538.5H174.0V531.0H175.0V548.8H176.0V547.6H177.0V540.1H178.0V547.5H179.0V540.4H180.0V544.4H181.0V541.9H182.0V539.6H183.0V537.8H184.0V538.9H185.0V543.4H186.0V543.2H187.0V542.1H188.0V540.6H189.0V540.2H190.0V543.8H191.0V546.3H192.0V538.2H193.0V542.5H194.0V542.9H195.0V544.3H196.0V542.5H197.0V539.5H198.0V546.2H199.0V538.4H200.0V536.5H201.0V530.0H202.0V542.1H203.0V545.6H204.0V540.0H205.0V528.0H206.0V540.6H207.0V541.0H208.0V545.5H209.0V532.8H210.0V533.3H211.0V541.8H212.0V534.3H213.0V534.2H214.0V529.6H215.0V541.8H216.0V540.6H217.0V534.5H218.0V539.7H219.0V530.0H220.0V539.8H221.0V545.7H222.0V545.0H223.0V542.5H224.0V543.3H225.0V537.1H226.0V537.5H227.0V543.5H228.0V539.3H229.0V541.8H230.0V538.0H231.0V541.5H232.0V534.2H233.0V529.0H234.0V547.3H235.0V543.3H236.0V541.3H237.0V536.2H238.0V541.8H239.0V540.0H240.0V541.8H241.0V535.3H242.0V543.4H243.0V541.1H244.0V542.1H245.0V541.6H246.0V531.6H247.0V531.0H248.0V542.9H249.0V536.4H250.0V528.0H251.0V541.6H252.0V544.7H253.0V540.1H254.0V544.7H255.0V542.9H256.0V541.4H257.0V542.4H258.0V543.4H259.0V537.9H260.0V535.6H261.0V544.2H262.0V525.6H263.0V531.2H264.0V543.1H265.0V543.7H266.0V537.0H267.0V534.2H268.0V540.7H269.0V525.0H270.0V545.2H271.0V539.9H272.0V545.9H273.0V540.6H274.0V539.0H275.0V542.3H276.0V538.3H277.0V530.8H278.0V533.8H279.0V537.7H280.0V536.5H281.0V542.5H282.0V537.9H283.0V542.2H284.0V536.1H285.0V533.9H286.0V535.3H287.0V537.9H288.0V541.1H289.0V545.1H290.0V531.3H291.0V539.0H292.0V527.2H293.0V543.1H294.0V522.0H295.0V539.6H296.0V541.8H297.0V540.4H298.0V542.3H299.0V541.8H300.0V538.2H301.0V536.1H302.0V528.9H303.0V529.0H304.0V536.1H305.0V546.8H306.0V541.3H307.0V538.3H308.0V538.8H309.0V545.0H310.0V541.9H311.0V546.5H312.0V538.5H313.0V537.2H314.0V535.5H315.0V540.9H316.0V540.3H317.0V543.5H318.0V540.3H319.0V542.1H320.0V536.3H321.0V538.6H322.0V538.1H323.0V536.2H324.0V527.0H325.0V544.7H326.0V545.5H327.0V542.6H328.0V544.4H329.0V537.5H330.0V543.6H331.0V537.1H332.0V541.7H333.0V545.1H334.0V534.6H335.0V543.1H336.0V546.8H337.0V542.5H338.0V531.2H339.0V540.5H340.0V543.5H341.0V539.5H342.0V541.7H343.0V541.0H344.0V538.3H345.0V546.5H346.0V542.9H347.0V540.7H348.0V544.8H349.0V535.4H350.0V539.1H351.0V533.5H352.0V538.5H353.0V546.6H354.0V543.3H355.0V525.8H356.0V543.0H357.0V544.3H358.0V540.4H359.0V530.8H360.0V538.3H361.0V540.1H362.0V533.6H363.0V541.6H364.0V545.3H365.0V534.5H366.0V533.2H367.0V539.3H368.0V537.3H369.0V539.3H370.0V536.3H371.0V534.8H372.0V538.9H373.0V538.2H374.0V540.3H375.0V533.4H376.0V542.1H377.0V529.0H378.0V539.5H379.0V544.1H380.0V543.5H381.0V531.3H382.0V544.5H383.0V544.5H384.0V531.5H385.0V541.4H386.0V543.5H387.0V534.8H388.0V536.4H389.0V545.0H390.0V541.4H391.0V539.2H392.0V541.0H393.0V545.4H394.0V541.2H395.0V533.9H396.0V541.2H397.0V540.4H398.0V542.4H399.0V545.1H400.0V541.0H401.0V541.1H402.0V537.3H403.0V536.7H404.0V544.6H405.0V541.2H406.0V545.8H407.0V546.3H408.0V548.9H409.0V540.0H410.0V527.5H411.0V538.9H412.0V544.7H413.0V547.8H414.0V539.4H415.0V545.3H416.0V543.9H417.0V541.2H418.0V536.3H419.0V543.7H420.0V541.9H421.0V534.1H422.0V540.9H423.0V542.6H424.0V543.5H425.0V546.0H426.0V541.3H427.0V539.0H428.0V542.0H429.0V531.8H430.0V539.3H431.0V541.4H432.0V541.6H433.0V533.5H434.0V525.5H435.0V529.1H436.0V545.0H437.0V545.2H438.0V538.4H439.0V535.4H440.0V543.3H441.0V528.5H442.0V545.0H443.0V541.3H444.0V545.5H445.0V541.2H446.0V542.5H447.0V536.3H448.0V542.3H449.0V542.6H450.0V533.3H451.0V544.7H452.0V531.5H453.0V541.0H454.0V541.4H455.0V543.3H456.0V542.1H457.0V549.8H458.0V546.3H459.0V546.1H460.0V541.6H461.0V546.8H462.0V541.2H463.0V523.7H464.0V542.2H465.0V535.9H466.0V540.1H467.0V538.0H468.0V533.6H468.5V591.0V591.0H468.0V591.2H467.0V591.6H466.0V590.1H465.0V592.3H464.0V589.4H463.0V593.3H462.0V590.7H461.0V594.4H460.0V591.8H459.0V594.5H458.0V592.0H457.0V590.5H456.0V590.5H455.0V590.7H454.0V590.4H453.0V590.0H452.0V589.6H451.0V591.7H450.0V590.4H449.0V591.2H448.0V591.2H447.0V592.7H446.0V594.5H445.0V591.4H444.0V591.2H443.0V592.4H442.0V593.8H441.0V591.1H440.0V592.5H439.0V592.9H438.0V590.9H437.0V592.5H436.0V590.8H435.0V591.5H434.0V592.2H433.0V592.5H432.0V597.7H431.0V591.5H430.0V592.3H429.0V594.6H428.0V590.6H427.0V593.0H426.0V592.7H425.0V591.5H424.0V591.5H423.0V590.4H422.0V591.0H421.0V593.6H420.0V594.1H419.0V592.7H418.0V592.9H417.0V590.9H416.0V593.1H415.0V589.7H414.0V594.4H413.0V590.4H412.0V592.0H411.0V593.8H410.0V590.8H409.0V594.3H408.0V593.2H407.0V591.4H406.0V590.5H405.0V589.3H404.0V590.2H403.0V592.0H402.0V589.4H401.0V594.7H400.0V590.4H399.0V593.3H398.0V590.6H397.0V590.5H396.0V589.1H395.0V594.8H394.0V592.5H393.0V593.4H392.0V591.2H391.0V591.0H390.0V591.5H389.0V591.7H388.0V595.0H387.0V593.0H386.0V590.9H385.0V592.1H384.0V591.3H383.0V591.4H382.0V596.2H381.0V591.4H380.0V588.8H379.0V590.2H378.0V590.0H377.0V591.4H376.0V594.9H375.0V590.2H374.0V591.2H373.0V589.8H372.0V590.9H371.0V591.1H370.0V591.0H369.0V597.6H368.0V590.7H367.0V594.1H366.0V591.5H365.0V595.4H364.0V590.2H363.0V593.6H362.0V589.8H361.0V592.7H360.0V591.6H359.0V589.5H358.0V594.5H357.0V589.5H356.0V592.6H355.0V591.6H354.0V590.9H353.0V590.1H352.0V590.0H351.0V590.5H350.0V589.2H349.0V590.1H348.0V589.5H347.0V588.5H346.0V590.5H345.0V588.4H344.0V588.1H343.0V588.6H342.0V588.8H341.0V591.1H340.0V590.0H339.0V589.3H338.0V593.7H337.0V590.7H336.0V591.4H335.0V594.6H334.0V590.7H333.0V593.1H332.0V591.1H331.0V592.1H330.0V591.8H329.0V589.2H328.0V589.7H327.0V591.1H326.0V590.7H325.0V591.5H324.0V589.7H323.0V590.0H322.0V594.3H321.0V590.0H320.0V589.2H319.0V589.8H318.0V591.4H317.0V589.5H316.0V589.7H315.0V590.3H314.0V589.8H313.0V590.4H312.0V593.1H311.0V598.1H310.0V589.8H309.0V589.5H308.0V589.8H307.0V589.7H306.0V590.1H305.0V595.7H304.0V590.8H303.0V592.4H302.0V593.1H301.0V588.4H300.0V591.1H299.0V592.3H298.0V591.0H297.0V590.5H296.0V593.1H295.0V591.4H294.0V590.5H293.0V591.7H292.0V588.5H291.0V589.4H290.0V591.3H289.0V594.5H288.0V592.3H287.0V591.1H286.0V589.1H285.0V590.8H284.0V588.3H283.0V589.4H282.0V592.6H281.0V589.8H280.0V591.9H279.0V588.9H278.0V591.1H277.0V592.5H276.0V591.3H275.0V591.1H274.0V589.5H273.0V591.1H272.0V590.6H271.0V591.5H270.0V591.0H269.0V592.0H268.0V589.2H267.0V591.4H266.0V589.5H265.0V589.6H264.0V590.1H263.0V590.3H262.0V590.9H261.0V591.1H260.0V594.3H259.0V589.9H258.0V589.0H257.0V589.5H256.0V593.8H255.0V591.1H254.0V590.3H253.0V589.4H252.0V590.2H251.0V590.5H250.0V592.8H249.0V595.6H248.0V589.8H247.0V590.7H246.0V589.3H245.0V588.8H244.0V588.8H243.0V591.4H242.0V590.9H241.0V589.4H240.0V592.2H239.0V592.2H238.0V590.0H237.0V591.2H236.0V592.2H235.0V589.3H234.0V592.0H233.0V593.4H232.0V590.0H231.0V589.1H230.0V590.8H229.0V590.1H228.0V591.0H227.0V590.9H226.0V590.1H225.0V591.9H224.0V597.9H223.0V590.6H222.0V591.3H221.0V593.6H220.0V594.3H219.0V596.0H218.0V591.8H217.0V589.4H216.0V588.7H215.0V590.3H214.0V591.7H213.0V590.3H212.0V589.4H211.0V587.9H210.0V589.5H209.0V592.1H208.0V590.3H207.0V589.7H206.0V588.8H205.0V589.5H204.0V592.2H203.0V590.2H202.0V590.7H201.0V590.9H200.0V594.0H199.0V590.8H198.0V589.1H197.0V587.7H196.0V588.2H195.0V589.8H194.0V588.1H193.0V591.2H192.0V594.8H191.0V590.7H190.0V590.7H189.0V589.9H188.0V591.3H187.0V589.3H186.0V591.1H185.0V590.8H184.0V592.8H183.0V590.5H182.0V589.5H181.0V589.2H180.0V589.8H179.0V592.9H178.0V591.4H177.0V595.1H176.0V590.3H175.0V589.2H174.0V590.2H173.0V590.4H172.0V591.1H171.0V591.6H170.0V596.7H169.0V591.9H168.0V590.3H167.0V588.8H166.0V589.7H165.0V589.2H164.0V596.7H163.0V592.8H162.0V590.3H161.0V590.2H160.0V592.0H159.0V588.9H158.0V590.0H157.0V592.4H156.0V590.6H155.0V590.2H154.0V590.7H153.0V594.8H152.0V591.5H151.0V593.6H150.0V590.9H149.0V595.1H148.0V591.1H147.0V590.1H146.0V590.5H145.0V592.7H144.0V590.3H143.0V592.2H142.0V589.7H141.0V592.5H140.0V590.6H139.1Z"/>
<path class="bd" d="M471.0,540.9V540.9H472.0V543.2H473.0V540.6H474.0V546.0H475.0V539.8H476.0V546.0H477.0V538.2H478.0V540.0H479.0V545.2H480.0V539.3H481.0V542.2H482.0V532.7H483.0V542.7H484.0V544.0H485.0V542.1H486.0V534.0H487.0V546.0H488.0V534.9H489.0V535.2H490.0V540.6H491.0V540.6H492.0V537.9H493.0V545.2H494.0V539.6H495.0V534.9H496.0V545.9H497.0V539.1H498.0V540.3H499.0V543.0H500.0V545.4H501.0V538.8H502.0V535.2H503.0V543.8H504.0V547.5H505.0V535.9H506.0V546.1H507.0V544.5H508.0V541.0H509.0V547.3H510.0V533.1H511.0V543.3H512.0V543.3H513.0V537.4H514.0V537.4H515.0V532.9H516.0V534.2H517.0V537.0H518.0V538.2H519.0V541.3H520.0V542.6H521.0V542.2H522.0V529.5H523.0V536.9H524.0V531.1H525.0V530.7H526.0V545.0H527.0V540.0H528.0V539.6H529.0V543.8H530.0V540.7H531.0V544.0H532.0V542.1H533.0V536.8H534.0V541.3H535.0V539.6H536.0V544.4H537.0V541.3H538.0V542.0H539.0V542.4H540.0V545.2H541.0V547.7H542.0V536.1H543.0V549.3H544.0V542.5H544.8V594.2V594.2H544.0V593.8H543.0V590.4H542.0V590.0H541.0V589.3H540.0V590.5H539.0V598.3H538.0V590.8H537.0V593.2H536.0V592.3H535.0V592.4H534.0V591.4H533.0V593.3H532.0V594.3H531.0V593.2H530.0V591.1H529.0V592.3H528.0V592.2H527.0V592.2H526.0V592.1H525.0V592.5H524.0V593.2H523.0V590.6H522.0V593.1H521.0V593.9H520.0V590.2H519.0V592.7H518.0V595.2H517.0V591.5H516.0V594.4H515.0V594.2H514.0V591.6H513.0V596.3H512.0V594.5H511.0V592.2H510.0V591.6H509.0V590.0H508.0V592.0H507.0V591.7H506.0V593.0H505.0V591.0H504.0V589.9H503.0V590.4H502.0V591.2H501.0V590.0H500.0V593.1H499.0V590.5H498.0V590.6H497.0V589.9H496.0V591.5H495.0V591.5H494.0V591.0H493.0V592.0H492.0V591.6H491.0V590.1H490.0V592.5H489.0V590.4H488.0V590.8H487.0V592.5H486.0V591.5H485.0V593.0H484.0V591.9H483.0V593.4H482.0V592.9H481.0V595.4H480.0V592.5H479.0V592.0H478.0V590.2H477.0V593.4H476.0V589.7H475.0V589.7H474.0V591.8H473.0V594.5H472.0V593.0H471.0Z"/>
<path class="bd" d="M546.2,540.7V540.7H547.0V528.8H548.0V539.8H549.0V522.5H550.0V538.3H551.0V543.8H552.0V528.6H553.0V533.9H554.0V530.7H555.0V541.9H556.0V542.3H557.0V533.0H558.0V537.2H559.0V542.1H560.0V537.7H561.0V531.5H562.0V541.4H563.0V531.5H564.0V543.0H565.0V543.9H566.0V541.0H567.0V517.0H568.0V544.6H569.0V536.4H570.0V542.8H571.0V542.9H572.0V536.3H573.0V540.5H574.0V542.4H575.0V536.8H576.0V543.5H577.0V535.8H578.0V523.3H579.0V544.1H580.0V540.5H581.0V544.5H582.0V543.6H583.0V543.8H584.0V536.6H585.0V544.5H586.0V543.3H587.0V538.9H588.0V543.6H589.0V528.5H590.0V543.8H591.0V530.3H592.0V537.5H593.0V539.4H594.0V536.1H595.0V533.4H596.0V523.9H597.0V538.8H598.0V537.3H599.0V542.8H600.0V535.1H601.0V541.7H602.0V539.3H603.0V542.7H604.0V536.9H605.0V543.6H606.0V530.0H607.0V545.2H608.0V532.2H609.0V537.8H610.0V543.0H611.0V529.0H612.0V536.7H613.0V542.5H614.0V535.3H615.0V535.0H616.0V540.6H617.0V537.7H618.0V538.3H619.0V541.8H620.0V541.8H621.0V542.5H622.0V538.0H623.0V537.4H624.0V536.9H625.0V536.4H626.0V536.9H627.0V545.5H628.0V541.4H629.0V539.7H630.0V536.9H631.0V537.7H632.0V528.9H633.0V541.2H634.0V540.5H635.0V541.2H636.0V540.6H637.0V516.4H638.0V531.6H639.0V543.1H640.0V539.7H641.0V537.3H642.0V541.5H643.0V541.6H644.0V533.8H645.0V527.7H646.0V531.9H647.0V526.5H648.0V539.5H649.0V541.4H650.0V530.7H651.0V538.4H652.0V535.2H653.0V537.8H654.0V544.1H655.0V540.7H656.0V528.0H657.0V539.0H658.0V543.4H659.0V542.4H660.0V531.2H661.0V546.2H662.0V538.4H663.0V540.0H664.0V538.7H665.0V542.5H666.0V539.2H667.0V544.4H668.0V542.3H669.0V535.9H670.0V541.2H671.0V545.0H672.0V540.7H673.0V536.5H674.0V538.7H675.0V527.0H676.0V535.9H677.0V537.9H678.0V540.6H679.0V536.4H680.0V542.2H681.0V545.4H682.0V533.0H683.0V531.0H684.0V537.5H685.0V542.2H686.0V540.1H687.0V537.1H688.0V536.1H689.0V538.8H690.0V527.5H691.0V536.3H692.0V534.2H693.0V539.4H694.0V538.5H695.0V536.2H696.0V522.5H697.0V530.5H698.0V538.3H699.0V537.8H700.0V539.7H701.0V544.0H702.0V539.9H703.0V549.7H703.6V584.2V584.2H703.0V591.6H702.0V591.5H701.0V591.8H700.0V593.7H699.0V591.8H698.0V594.3H697.0V593.7H696.0V594.8H695.0V592.5H694.0V594.1H693.0V590.8H692.0V591.2H691.0V591.4H690.0V592.1H689.0V594.0H688.0V592.1H687.0V590.5H686.0V593.0H685.0V591.5H684.0V592.4H683.0V591.1H682.0V594.1H681.0V594.0H680.0V592.3H679.0V591.8H678.0V593.5H677.0V592.3H676.0V593.2H675.0V590.6H674.0V592.3H673.0V591.8H672.0V595.6H671.0V591.7H670.0V591.0H669.0V591.9H668.0V590.7H667.0V590.6H666.0V592.1H665.0V589.8H664.0V590.4H663.0V593.0H662.0V590.0H661.0V593.4H660.0V590.0H659.0V594.1H658.0V592.4H657.0V591.7H656.0V590.3H655.0V590.7H654.0V590.3H653.0V592.2H652.0V589.2H651.0V591.5H650.0V591.9H649.0V593.6H648.0V591.4H647.0V590.7H646.0V592.5H645.0V591.8H644.0V590.4H643.0V591.9H642.0V591.9H641.0V591.5H640.0V592.1H639.0V590.9H638.0V591.9H637.0V593.4H636.0V594.2H635.0V590.8H634.0V590.9H633.0V593.8H632.0V593.5H631.0V593.4H630.0V590.5H629.0V593.9H628.0V591.7H627.0V591.7H626.0V591.6H625.0V594.5H624.0V589.7H623.0V589.7H622.0V593.2H621.0V594.7H620.0V592.7H619.0V594.7H618.0V592.9H617.0V589.9H616.0V589.6H615.0V592.3H614.0V589.5H613.0V591.9H612.0V592.8H611.0V591.4H610.0V591.7H609.0V590.0H608.0V592.1H607.0V591.8H606.0V590.5H605.0V592.9H604.0V594.2H603.0V594.6H602.0V590.3H601.0V591.5H600.0V593.8H599.0V591.8H598.0V590.7H597.0V591.1H596.0V592.1H595.0V590.4H594.0V595.3H593.0V591.0H592.0V592.7H591.0V590.8H590.0V592.8H589.0V591.8H588.0V589.8H587.0V590.7H586.0V589.5H585.0V591.4H584.0V591.1H583.0V590.6H582.0V589.1H581.0V593.3H580.0V589.5H579.0V590.2H578.0V591.0H577.0V592.2H576.0V590.3H575.0V589.8H574.0V591.5H573.0V592.8H572.0V594.2H571.0V589.9H570.0V590.0H569.0V591.0H568.0V592.4H567.0V591.2H566.0V590.6H565.0V597.6H564.0V592.2H563.0V592.3H562.0V594.1H561.0V590.7H560.0V593.1H559.0V589.9H558.0V589.2H557.0V589.0H556.0V589.4H555.0V590.2H554.0V590.1H553.0V594.9H552.0V592.4H551.0V595.2H550.0V593.7H549.0V589.8H548.0V593.8H547.0V591.2H546.2Z"/>
<path class="ln" style="stroke-width:0.7" d="M468.2,578.9 L471.3,568.9"/>
<path class="ln" style="stroke-width:0.7" d="M544.5,579.6 L546.5,580.7"/>
</g>
<g clip-path="url(#c4)">
<path class="bd" d="M139.1,673.1V673.1H140.0V675.5H141.0V672.7H142.0V670.7H143.0V675.5H144.0V673.8H145.0V670.2H146.0V672.7H147.0V668.0H148.0V672.9H149.0V672.0H150.0V664.4H151.0V673.2H152.0V666.1H153.0V670.9H154.0V673.0H155.0V674.4H156.0V672.6H157.0V665.8H158.0V674.5H159.0V670.7H160.0V669.2H161.0V671.7H162.0V674.0H163.0V674.3H164.0V675.2H165.0V669.0H166.0V672.6H167.0V674.1H168.0V671.3H169.0V666.4H170.0V674.7H171.0V674.3H172.0V675.2H173.0V675.9H174.0V674.9H175.0V670.0H176.0V673.1H177.0V674.6H178.0V671.1H179.0V674.4H180.0V673.9H181.0V675.0H182.0V673.9H183.0V670.8H184.0V673.4H185.0V676.5H186.0V670.8H187.0V675.7H188.0V672.5H189.0V674.4H190.0V673.3H191.0V674.1H192.0V674.4H193.0V675.3H194.0V675.5H195.0V677.9H196.0V674.7H197.0V674.7H198.0V670.6H199.0V671.6H200.0V671.7H201.0V669.8H202.0V668.8H203.0V671.5H204.0V673.3H205.0V673.8H206.0V671.4H207.0V672.3H208.0V676.7H209.0V675.4H210.0V673.9H211.0V669.9H212.0V676.8H213.0V671.9H214.0V671.6H215.0V674.7H216.0V674.1H217.0V671.5H218.0V665.4H219.0V674.1H220.0V670.2H221.0V672.6H222.0V674.7H223.0V672.2H224.0V675.5H225.0V672.3H226.0V670.0H227.0V666.9H228.0V673.8H229.0V672.2H230.0V672.5H231.0V672.1H232.0V672.5H233.0V674.4H234.0V671.5H235.0V670.7H236.0V672.4H237.0V671.4H238.0V666.0H239.0V676.5H240.0V670.8H241.0V673.2H242.0V673.1H243.0V674.5H244.0V675.7H245.0V672.0H246.0V674.3H247.0V672.4H248.0V667.9H249.0V675.9H250.0V668.5H251.0V673.8H252.0V672.2H253.0V669.5H254.0V672.9H255.0V675.4H256.0V673.9H257.0V673.1H258.0V671.8H259.0V671.6H260.0V674.2H261.0V668.7H262.0V673.4H263.0V670.2H264.0V672.5H265.0V674.3H266.0V676.3H267.0V671.5H268.0V673.4H269.0V672.5H270.0V674.5H271.0V673.6H272.0V673.2H273.0V672.3H274.0V669.6H275.0V670.7H276.0V670.7H277.0V673.1H278.0V668.1H279.0V670.7H280.0V661.0H281.0V671.2H282.0V673.7H283.0V674.2H284.0V674.4H285.0V672.0H286.0V666.3H287.0V670.3H288.0V674.8H289.0V673.3H290.0V674.6H291.0V668.5H292.0V673.6H293.0V667.5H294.0V672.4H295.0V661.0H296.0V674.4H297.0V673.8H298.0V674.2H299.0V673.6H300.0V673.4H301.0V672.1H302.0V673.6H303.0V673.5H304.0V673.2H305.0V672.5H306.0V672.2H307.0V673.5H308.0V670.1H309.0V672.1H310.0V669.9H311.0V673.2H312.0V668.0H313.0V672.5H314.0V673.0H315.0V667.3H316.0V675.3H317.0V674.5H318.0V672.2H319.0V669.5H320.0V672.1H321.0V672.7H322.0V672.8H323.0V673.0H324.0V669.1H325.0V675.7H326.0V671.5H327.0V671.7H328.0V672.2H329.0V672.6H330.0V671.2H331.0V674.5H332.0V671.1H333.0V673.9H334.0V674.1H335.0V674.1H336.0V672.5H337.0V670.1H338.0V672.1H339.0V667.6H340.0V671.1H341.0V671.0H342.0V670.9H343.0V672.0H344.0V672.6H345.0V672.2H346.0V672.3H347.0V669.8H348.0V668.5H349.0V674.0H350.0V670.1H351.0V671.7H352.0V670.6H353.0V674.1H354.0V668.7H355.0V669.3H356.0V670.7H357.0V672.6H358.0V670.9H359.0V658.0H360.0V671.2H361.0V670.6H362.0V668.4H363.0V669.2H364.0V673.0H365.0V673.0H366.0V671.7H367.0V673.5H368.0V672.3H369.0V674.0H370.0V672.6H371.0V671.4H372.0V673.2H373.0V669.7H374.0V674.2H375.0V674.0H376.0V674.3H377.0V672.1H378.0V673.6H379.0V670.8H380.0V669.0H381.0V674.5H382.0V671.9H383.0V672.4H384.0V674.1H385.0V674.0H386.0V672.2H387.0V674.5H388.0V674.1H389.0V673.6H390.0V674.2H391.0V674.3H392.0V675.9H393.0V673.8H394.0V673.7H395.0V670.7H396.0V674.6H397.0V675.1H398.0V673.3H399.0V674.7H400.0V675.0H401.0V673.2H402.0V674.4H403.0V673.7H404.0V676.1H405.0V670.5H406.0V674.5H407.0V672.2H408.0V673.7H409.0V676.8H410.0V672.5H411.0V667.9H412.0V673.3H413.0V672.5H414.0V674.1H415.0V675.1H416.0V674.8H417.0V672.6H418.0V675.8H419.0V671.6H420.0V673.5H421.0V673.9H422.0V668.7H423.0V675.5H424.0V672.7H425.0V675.5H426.0V673.2H427.0V677.3H428.0V677.2H429.0V675.9H430.0V675.9H431.0V676.8H432.0V677.1H433.0V674.9H434.0V676.8H435.0V674.3H436.0V675.3H437.0V675.7H438.0V675.5H439.0V675.2H440.0V673.3H441.0V675.0H442.0V676.0H443.0V676.1H444.0V673.5H445.0V676.1H446.0V674.9H447.0V676.8H448.0V676.4H449.0V674.8H450.0V676.6H451.0V674.8H452.0V677.4H453.0V671.6H454.0V675.3H455.0V673.2H456.0V674.3H457.0V674.6H458.0V675.4H459.0V674.4H460.0V674.3H461.0V674.3H462.0V670.8H463.0V671.4H464.0V675.3H465.0V667.0H466.0V673.4H467.0V674.1H468.0V674.6H468.5V717.5V717.5H468.0V721.9H467.0V731.7H466.0V717.4H465.0V718.5H464.0V715.9H463.0V717.2H462.0V719.2H461.0V720.7H460.0V718.8H459.0V715.4H458.0V725.2H457.0V711.4H456.0V713.2H455.0V715.1H454.0V719.1H453.0V719.8H452.0V715.2H451.0V715.6H450.0V719.5H449.0V723.2H448.0V719.6H447.0V712.9H446.0V734.5H445.0V716.3H444.0V730.0H443.0V715.1H442.0V722.8H441.0V714.9H440.0V716.6H439.0V712.9H438.0V720.8H437.0V719.1H436.0V733.6H435.0V718.6H434.0V718.8H433.0V723.5H432.0V717.5H431.0V723.4H430.0V715.4H429.0V714.4H428.0V722.7H427.0V718.3H426.0V714.3H425.0V714.1H424.0V717.3H423.0V719.2H422.0V717.9H421.0V728.3H420.0V710.8H419.0V735.6H418.0V715.8H417.0V716.5H416.0V717.6H415.0V719.8H414.0V711.4H413.0V728.4H412.0V718.6H411.0V732.0H410.0V718.0H409.0V711.8H408.0V715.5H407.0V726.0H406.0V714.0H405.0V714.3H404.0V721.2H403.0V725.6H402.0V713.4H401.0V718.1H400.0V713.2H399.0V721.0H398.0V713.4H397.0V714.9H396.0V715.9H395.0V728.3H394.0V719.1H393.0V738.0H392.0V714.7H391.0V717.2H390.0V716.5H389.0V717.9H388.0V717.2H387.0V709.6H386.0V715.8H385.0V712.3H384.0V715.4H383.0V716.8H382.0V718.4H381.0V717.1H380.0V713.5H379.0V725.1H378.0V724.1H377.0V715.3H376.0V715.7H375.0V708.9H374.0V712.8H373.0V717.4H372.0V712.1H371.0V708.9H370.0V714.3H369.0V710.7H368.0V711.7H367.0V714.7H366.0V713.7H365.0V740.0H364.0V710.2H363.0V718.3H362.0V712.0H361.0V714.4H360.0V720.7H359.0V711.5H358.0V714.1H357.0V713.4H356.0V707.9H355.0V708.1H354.0V712.7H353.0V718.0H352.0V716.8H351.0V706.4H350.0V717.6H349.0V722.1H348.0V711.9H347.0V711.7H346.0V717.9H345.0V718.8H344.0V716.3H343.0V712.3H342.0V716.6H341.0V717.4H340.0V713.1H339.0V719.1H338.0V714.4H337.0V716.4H336.0V720.3H335.0V717.3H334.0V713.2H333.0V711.6H332.0V747.3H331.0V711.1H330.0V715.1H329.0V712.6H328.0V725.3H327.0V710.8H326.0V710.4H325.0V715.2H324.0V709.8H323.0V714.8H322.0V711.8H321.0V708.0H320.0V713.3H319.0V712.4H318.0V715.0H317.0V712.0H316.0V715.1H315.0V718.2H314.0V710.6H313.0V710.6H312.0V718.2H311.0V726.7H310.0V713.2H309.0V707.8H308.0V724.4H307.0V747.3H306.0V711.3H305.0V715.4H304.0V710.1H303.0V706.9H302.0V747.3H301.0V709.4H300.0V714.3H299.0V715.9H298.0V716.3H297.0V710.4H296.0V710.9H295.0V708.1H294.0V709.4H293.0V713.6H292.0V717.5H291.0V708.2H290.0V708.9H289.0V716.0H288.0V712.2H287.0V715.0H286.0V709.1H285.0V708.4H284.0V713.3H283.0V708.0H282.0V712.3H281.0V720.2H280.0V706.3H279.0V718.7H278.0V709.6H277.0V707.5H276.0V720.9H275.0V712.3H274.0V710.7H273.0V713.3H272.0V718.8H271.0V705.4H270.0V710.6H269.0V715.8H268.0V709.2H267.0V714.2H266.0V707.5H265.0V706.4H264.0V710.1H263.0V708.0H262.0V711.9H261.0V714.5H260.0V711.3H259.0V718.0H258.0V714.8H257.0V722.0H256.0V708.8H255.0V709.6H254.0V709.7H253.0V712.6H252.0V714.1H251.0V712.4H250.0V713.4H249.0V707.4H248.0V736.0H247.0V711.0H246.0V715.0H245.0V713.3H244.0V712.9H243.0V707.4H242.0V725.4H241.0V712.7H240.0V711.8H239.0V713.5H238.0V710.4H237.0V716.0H236.0V708.9H235.0V707.2H234.0V713.8H233.0V714.7H232.0V714.8H231.0V710.3H230.0V712.0H229.0V711.2H228.0V712.9H227.0V716.5H226.0V707.8H225.0V733.0H224.0V716.4H223.0V716.6H222.0V711.1H221.0V715.5H220.0V714.6H219.0V709.7H218.0V719.8H217.0V713.9H216.0V714.7H215.0V714.3H214.0V709.4H213.0V712.1H212.0V708.5H211.0V707.4H210.0V715.1H209.0V713.0H208.0V707.5H207.0V732.0H206.0V711.5H205.0V718.5H204.0V706.7H203.0V707.1H202.0V707.1H201.0V705.5H200.0V707.6H199.0V706.5H198.0V705.7H197.0V706.8H196.0V708.9H195.0V711.2H194.0V706.0H193.0V706.5H192.0V704.4H191.0V713.3H190.0V708.7H189.0V707.7H188.0V708.9H187.0V719.8H186.0V714.8H185.0V715.6H184.0V708.6H183.0V721.1H182.0V718.7H181.0V715.5H180.0V724.6H179.0V711.9H178.0V710.2H177.0V714.1H176.0V718.6H175.0V708.9H174.0V714.0H173.0V715.0H172.0V717.9H171.0V713.8H170.0V713.7H169.0V715.3H168.0V710.3H167.0V747.3H166.0V709.6H165.0V715.9H164.0V747.3H163.0V709.3H162.0V747.3H161.0V716.1H160.0V713.5H159.0V712.6H158.0V708.9H157.0V722.8H156.0V718.4H155.0V720.1H154.0V711.0H153.0V718.7H152.0V711.5H151.0V712.3H150.0V735.0H149.0V721.1H148.0V715.5H147.0V739.7H146.0V708.6H145.0V715.0H144.0V716.3H143.0V717.7H142.0V714.2H141.0V724.3H140.0V707.8H139.1Z"/>
<path class="bd" d="M471.0,674.3V674.3H472.0V673.8H473.0V673.0H474.0V670.1H475.0V670.1H476.0V673.2H477.0V675.9H478.0V676.5H479.0V673.7H480.0V662.0H481.0V675.9H482.0V670.9H483.0V674.8H484.0V677.3H485.0V675.0H486.0V662.4H487.0V669.8H488.0V676.9H489.0V672.4H490.0V673.8H491.0V672.2H492.0V674.5H493.0V674.4H494.0V673.5H495.0V674.0H496.0V673.0H497.0V675.1H498.0V672.6H499.0V673.6H500.0V675.7H501.0V676.8H502.0V675.3H503.0V674.8H504.0V676.1H505.0V675.8H506.0V673.6H507.0V677.2H508.0V673.3H509.0V677.2H510.0V675.0H511.0V676.3H512.0V678.0H513.0V676.2H514.0V676.4H515.0V676.1H516.0V675.1H517.0V673.7H518.0V672.9H519.0V675.7H520.0V675.8H521.0V674.8H522.0V676.7H523.0V672.6H524.0V675.8H525.0V675.3H526.0V672.9H527.0V673.4H528.0V675.8H529.0V677.2H530.0V673.0H531.0V674.4H532.0V669.4H533.0V673.2H534.0V673.9H535.0V667.4H536.0V673.3H537.0V672.6H538.0V674.1H539.0V675.2H540.0V675.2H541.0V667.5H542.0V674.5H543.0V672.2H544.0V668.7H544.8V715.8V715.8H544.0V719.2H543.0V723.4H542.0V710.7H541.0V710.8H540.0V715.3H539.0V717.8H538.0V715.6H537.0V713.5H536.0V714.2H535.0V717.7H534.0V711.5H533.0V711.4H532.0V709.2H531.0V714.1H530.0V718.6H529.0V718.9H528.0V716.2H527.0V715.4H526.0V715.9H525.0V717.9H524.0V725.6H523.0V717.0H522.0V725.9H521.0V722.2H520.0V720.6H519.0V715.8H518.0V717.9H517.0V725.2H516.0V711.1H515.0V723.6H514.0V710.3H513.0V712.1H512.0V722.9H511.0V711.7H510.0V714.9H509.0V713.9H508.0V723.3H507.0V707.9H506.0V718.1H505.0V720.6H504.0V715.1H503.0V715.4H502.0V719.6H501.0V719.5H500.0V716.3H499.0V716.7H498.0V712.8H497.0V718.3H496.0V715.6H495.0V719.5H494.0V714.2H493.0V711.6H492.0V714.9H491.0V711.4H490.0V709.0H489.0V720.6H488.0V715.7H487.0V747.3H486.0V719.3H485.0V724.7H484.0V738.0H483.0V715.2H482.0V718.3H481.0V714.5H480.0V723.7H479.0V731.0H478.0V726.1H477.0V720.9H476.0V718.8H475.0V717.5H474.0V717.9H473.0V713.4H472.0V718.7H471.0Z"/>
<path class="bd" d="M546.2,673.3V673.3H547.0V667.1H548.0V667.7H549.0V668.3H550.0V672.1H551.0V672.4H552.0V671.2H553.0V673.0H554.0V672.4H555.0V670.1H556.0V667.0H557.0V671.8H558.0V670.1H559.0V672.0H560.0V669.7H561.0V668.0H562.0V673.2H563.0V668.9H564.0V669.4H565.0V671.9H566.0V668.2H567.0V671.0H568.0V672.1H569.0V671.0H570.0V669.6H571.0V672.6H572.0V670.7H573.0V670.3H574.0V671.0H575.0V669.3H576.0V670.9H577.0V673.5H578.0V672.9H579.0V670.7H580.0V672.4H581.0V674.9H582.0V674.4H583.0V671.1H584.0V672.0H585.0V667.1H586.0V672.0H587.0V669.5H588.0V671.7H589.0V671.9H590.0V674.9H591.0V673.5H592.0V666.1H593.0V672.2H594.0V674.7H595.0V674.5H596.0V668.5H597.0V671.0H598.0V673.6H599.0V669.2H600.0V671.5H601.0V671.2H602.0V670.5H603.0V673.5H604.0V673.0H605.0V672.4H606.0V672.1H607.0V668.7H608.0V667.2H609.0V671.3H610.0V673.8H611.0V674.2H612.0V675.7H613.0V672.5H614.0V671.5H615.0V673.0H616.0V672.4H617.0V671.3H618.0V672.6H619.0V672.8H620.0V670.4H621.0V672.1H622.0V671.5H623.0V669.9H624.0V668.2H625.0V669.8H626.0V665.0H627.0V669.3H628.0V670.4H629.0V670.3H630.0V672.2H631.0V671.3H632.0V671.3H633.0V661.0H634.0V669.0H635.0V670.6H636.0V670.5H637.0V670.4H638.0V673.3H639.0V672.1H640.0V670.9H641.0V670.4H642.0V674.7H643.0V673.5H644.0V672.0H645.0V675.5H646.0V672.9H647.0V674.7H648.0V674.3H649.0V671.9H650.0V669.8H651.0V672.4H652.0V671.7H653.0V673.3H654.0V672.9H655.0V670.6H656.0V673.5H657.0V671.4H658.0V671.9H659.0V672.2H660.0V672.7H661.0V673.1H662.0V668.4H663.0V672.0H664.0V671.7H665.0V671.4H666.0V673.3H667.0V671.4H668.0V672.0H669.0V667.0H670.0V672.4H671.0V671.1H672.0V669.7H673.0V673.2H674.0V672.2H675.0V672.6H676.0V671.3H677.0V670.7H678.0V670.9H679.0V670.8H680.0V668.6H681.0V667.9H682.0V669.4H683.0V673.6H684.0V673.0H685.0V666.3H686.0V671.1H687.0V667.8H688.0V667.8H689.0V666.7H690.0V669.8H691.0V671.3H692.0V671.1H693.0V667.6H694.0V672.3H695.0V672.2H696.0V671.1H697.0V672.6H698.0V672.7H699.0V672.7H700.0V671.8H701.0V667.0H702.0V668.8H703.0V681.0H703.6V702.7V702.7H703.0V707.7H702.0V715.2H701.0V722.6H700.0V719.7H699.0V729.0H698.0V711.6H697.0V712.4H696.0V706.6H695.0V708.0H694.0V710.3H693.0V714.8H692.0V727.5H691.0V711.3H690.0V711.5H689.0V712.9H688.0V721.0H687.0V716.0H686.0V710.9H685.0V716.8H684.0V711.0H683.0V711.1H682.0V707.5H681.0V711.7H680.0V708.7H679.0V710.6H678.0V707.2H677.0V716.4H676.0V713.6H675.0V711.9H674.0V707.3H673.0V711.7H672.0V714.2H671.0V706.8H670.0V712.4H669.0V700.7H668.0V726.4H667.0V709.8H666.0V707.6H665.0V721.1H664.0V708.7H663.0V711.5H662.0V719.8H661.0V719.1H660.0V714.0H659.0V713.5H658.0V712.0H657.0V709.2H656.0V710.5H655.0V704.8H654.0V709.3H653.0V709.4H652.0V704.5H651.0V715.5H650.0V704.3H649.0V706.8H648.0V717.0H647.0V709.6H646.0V707.5H645.0V710.2H644.0V710.9H643.0V709.8H642.0V711.6H641.0V707.3H640.0V711.5H639.0V708.1H638.0V709.6H637.0V729.0H636.0V707.0H635.0V714.8H634.0V733.6H633.0V714.2H632.0V711.1H631.0V708.6H630.0V708.7H629.0V719.0H628.0V716.0H627.0V712.0H626.0V712.3H625.0V710.0H624.0V711.5H623.0V718.4H622.0V707.2H621.0V707.2H620.0V719.1H619.0V714.9H618.0V727.5H617.0V707.6H616.0V707.9H615.0V716.3H614.0V712.3H613.0V707.2H612.0V725.3H611.0V707.3H610.0V705.7H609.0V704.6H608.0V721.2H607.0V711.7H606.0V704.3H605.0V706.1H604.0V705.4H603.0V708.5H602.0V712.5H601.0V724.0H600.0V709.6H599.0V707.9H598.0V713.2H597.0V721.3H596.0V708.0H595.0V713.8H594.0V707.7H593.0V707.1H592.0V714.8H591.0V713.0H590.0V710.9H589.0V723.8H588.0V724.9H587.0V709.7H586.0V710.8H585.0V713.4H584.0V718.3H583.0V713.6H582.0V706.7H581.0V710.5H580.0V706.8H579.0V713.4H578.0V715.0H577.0V708.1H576.0V709.7H575.0V715.3H574.0V713.5H573.0V712.8H572.0V713.8H571.0V719.5H570.0V707.3H569.0V709.5H568.0V705.9H567.0V712.3H566.0V715.4H565.0V712.7H564.0V709.2H563.0V707.7H562.0V717.4H561.0V709.3H560.0V713.9H559.0V708.9H558.0V716.3H557.0V709.0H556.0V712.3H555.0V717.9H554.0V710.4H553.0V716.8H552.0V710.0H551.0V710.8H550.0V712.9H549.0V707.8H548.0V714.3H547.0V747.3H546.2Z"/>
<path class="ln" style="stroke-width:0.7" d="M468.2,708.4 L471.3,705.1"/>
<path class="ln" style="stroke-width:0.7" d="M544.5,701.7 L546.5,712.8"/>
</g>
<g clip-path="url(#c5)">
<path class="bd" d="M139.1,797.6V797.6H140.0V797.4H141.0V797.7H142.0V800.3H143.0V798.4H144.0V795.1H145.0V797.9H146.0V796.1H147.0V798.2H148.0V798.5H149.0V801.4H150.0V788.7H151.0V798.0H152.0V802.1H153.0V796.4H154.0V796.2H155.0V790.8H156.0V800.0H157.0V792.7H158.0V790.4H159.0V798.9H160.0V791.8H161.0V797.1H162.0V791.8H163.0V803.2H164.0V795.0H165.0V794.5H166.0V798.4H167.0V800.0H168.0V798.1H169.0V797.7H170.0V795.1H171.0V799.1H172.0V795.5H173.0V802.3H174.0V801.8H175.0V793.1H176.0V798.6H177.0V797.7H178.0V796.4H179.0V798.4H180.0V797.1H181.0V797.9H182.0V802.5H183.0V800.5H184.0V797.7H185.0V801.3H186.0V796.5H187.0V790.9H188.0V795.6H189.0V795.5H190.0V787.8H191.0V793.1H192.0V798.2H193.0V791.2H194.0V796.2H195.0V797.1H196.0V796.4H197.0V796.8H198.0V793.9H199.0V792.1H200.0V794.5H201.0V796.6H202.0V797.7H203.0V798.8H204.0V798.5H205.0V799.0H206.0V798.0H207.0V786.0H208.0V798.8H209.0V802.0H210.0V798.9H211.0V795.7H212.0V792.5H213.0V799.3H214.0V796.6H215.0V797.1H216.0V797.9H217.0V795.3H218.0V800.2H219.0V793.2H220.0V797.4H221.0V799.3H222.0V797.0H223.0V792.4H224.0V788.9H225.0V785.0H226.0V795.1H227.0V799.6H228.0V797.6H229.0V799.4H230.0V790.6H231.0V795.0H232.0V793.5H233.0V797.7H234.0V792.3H235.0V784.9H236.0V795.5H237.0V800.0H238.0V798.3H239.0V801.8H240.0V793.0H241.0V797.0H242.0V792.4H243.0V785.6H244.0V798.0H245.0V799.5H246.0V795.4H247.0V798.5H248.0V795.9H249.0V793.2H250.0V794.0H251.0V794.1H252.0V797.8H253.0V801.9H254.0V797.9H255.0V798.4H256.0V797.1H257.0V799.1H258.0V792.8H259.0V796.0H260.0V798.4H261.0V797.6H262.0V798.7H263.0V800.5H264.0V797.5H265.0V796.7H266.0V796.0H267.0V787.5H268.0V798.5H269.0V799.8H270.0V796.9H271.0V798.8H272.0V780.0H273.0V795.7H274.0V796.1H275.0V792.9H276.0V792.8H277.0V796.0H278.0V798.8H279.0V799.2H280.0V801.2H281.0V797.0H282.0V798.5H283.0V792.3H284.0V796.1H285.0V798.0H286.0V801.8H287.0V794.9H288.0V802.1H289.0V789.7H290.0V799.6H291.0V797.3H292.0V798.9H293.0V795.5H294.0V795.1H295.0V797.0H296.0V797.3H297.0V783.4H298.0V793.4H299.0V794.5H300.0V794.5H301.0V792.5H302.0V794.4H303.0V789.9H304.0V792.8H305.0V798.4H306.0V791.8H307.0V795.1H308.0V792.3H309.0V795.9H310.0V793.2H311.0V799.1H312.0V792.9H313.0V798.4H314.0V795.9H315.0V793.5H316.0V785.6H317.0V781.0H318.0V794.8H319.0V789.2H320.0V790.1H321.0V788.9H322.0V789.7H323.0V800.0H324.0V791.1H325.0V794.5H326.0V797.8H327.0V795.8H328.0V792.3H329.0V792.4H330.0V799.7H331.0V796.8H332.0V796.4H333.0V784.4H334.0V796.7H335.0V794.4H336.0V790.4H337.0V796.1H338.0V791.7H339.0V795.7H340.0V797.1H341.0V797.7H342.0V799.2H343.0V798.9H344.0V794.2H345.0V796.4H346.0V797.0H347.0V794.0H348.0V796.4H349.0V799.2H350.0V788.9H351.0V791.3H352.0V798.8H353.0V796.6H354.0V796.3H355.0V788.6H356.0V795.1H357.0V799.0H358.0V800.0H359.0V797.6H360.0V782.0H361.0V796.3H362.0V793.6H363.0V792.0H364.0V795.6H365.0V796.8H366.0V792.4H367.0V794.6H368.0V798.9H369.0V798.7H370.0V795.9H371.0V788.0H372.0V794.7H373.0V794.2H374.0V792.4H375.0V792.3H376.0V791.5H377.0V789.3H378.0V793.9H379.0V789.5H380.0V793.9H381.0V791.8H382.0V797.0H383.0V794.4H384.0V793.5H385.0V791.2H386.0V799.2H387.0V785.6H388.0V794.2H389.0V783.4H390.0V793.1H391.0V789.8H392.0V795.4H393.0V794.7H394.0V796.0H395.0V793.8H396.0V793.3H397.0V796.3H398.0V777.0H399.0V794.7H400.0V794.6H401.0V794.2H402.0V796.1H403.0V796.0H404.0V794.5H405.0V790.1H406.0V793.2H407.0V796.4H408.0V790.2H409.0V798.8H410.0V794.6H411.0V800.5H412.0V796.2H413.0V789.3H414.0V796.5H415.0V786.8H416.0V793.0H417.0V783.1H418.0V797.7H419.0V795.4H420.0V796.2H421.0V789.8H422.0V798.7H423.0V793.8H424.0V783.6H425.0V794.4H426.0V797.9H427.0V792.4H428.0V794.7H429.0V797.7H430.0V796.1H431.0V788.1H432.0V791.9H433.0V791.0H434.0V797.7H435.0V794.0H436.0V793.8H437.0V796.0H438.0V791.6H439.0V792.3H440.0V786.8H441.0V789.8H442.0V796.3H443.0V791.6H444.0V791.8H445.0V791.3H446.0V794.1H447.0V796.5H448.0V795.9H449.0V791.5H450.0V786.6H451.0V781.0H452.0V797.2H453.0V796.9H454.0V795.3H455.0V791.9H456.0V792.9H457.0V791.8H458.0V797.2H459.0V791.3H460.0V791.1H461.0V792.8H462.0V795.6H463.0V787.6H464.0V790.4H465.0V789.0H466.0V794.5H467.0V794.7H468.0V790.9H468.5V842.5V842.5H468.0V844.8H467.0V850.3H466.0V844.1H465.0V843.5H464.0V845.0H463.0V846.2H462.0V844.3H461.0V846.3H460.0V847.3H459.0V846.9H458.0V842.2H457.0V842.9H456.0V848.4H455.0V840.9H454.0V842.5H453.0V844.8H452.0V846.5H451.0V845.5H450.0V848.6H449.0V843.3H448.0V843.8H447.0V841.9H446.0V844.5H445.0V845.3H444.0V844.2H443.0V843.9H442.0V843.1H441.0V843.2H440.0V841.3H439.0V844.9H438.0V843.2H437.0V847.1H436.0V841.9H435.0V845.7H434.0V843.4H433.0V840.5H432.0V841.9H431.0V840.9H430.0V844.6H429.0V845.0H428.0V845.0H427.0V848.2H426.0V844.2H425.0V846.8H424.0V845.6H423.0V842.6H422.0V844.8H421.0V842.1H420.0V844.8H419.0V846.6H418.0V841.9H417.0V840.4H416.0V843.1H415.0V843.3H414.0V846.6H413.0V844.6H412.0V840.7H411.0V842.5H410.0V843.4H409.0V839.4H408.0V842.5H407.0V840.4H406.0V841.1H405.0V845.3H404.0V843.8H403.0V844.2H402.0V851.3H401.0V843.8H400.0V840.0H399.0V842.5H398.0V842.3H397.0V844.2H396.0V840.6H395.0V843.0H394.0V840.2H393.0V845.0H392.0V846.5H391.0V850.3H390.0V844.7H389.0V845.1H388.0V844.4H387.0V843.9H386.0V847.4H385.0V843.2H384.0V842.9H383.0V840.7H382.0V842.3H381.0V849.3H380.0V854.7H379.0V841.4H378.0V844.3H377.0V846.9H376.0V843.1H375.0V846.6H374.0V843.2H373.0V845.4H372.0V841.6H371.0V844.3H370.0V841.9H369.0V843.4H368.0V844.8H367.0V847.8H366.0V855.4H365.0V847.3H364.0V842.9H363.0V847.4H362.0V842.7H361.0V842.8H360.0V849.3H359.0V845.9H358.0V842.3H357.0V841.9H356.0V848.9H355.0V843.2H354.0V842.9H353.0V845.5H352.0V839.5H351.0V839.8H350.0V846.0H349.0V849.7H348.0V841.9H347.0V850.6H346.0V840.6H345.0V845.8H344.0V840.0H343.0V843.9H342.0V842.4H341.0V841.3H340.0V842.9H339.0V841.6H338.0V840.2H337.0V847.5H336.0V842.2H335.0V841.8H334.0V845.0H333.0V843.0H332.0V849.7H331.0V844.7H330.0V854.7H329.0V841.0H328.0V841.4H327.0V849.4H326.0V843.7H325.0V842.7H324.0V845.1H323.0V842.9H322.0V848.9H321.0V842.5H320.0V841.3H319.0V846.8H318.0V844.7H317.0V842.8H316.0V849.6H315.0V846.3H314.0V841.8H313.0V855.4H312.0V841.2H311.0V838.8H310.0V839.1H309.0V845.0H308.0V844.5H307.0V848.1H306.0V841.3H305.0V846.4H304.0V843.9H303.0V846.2H302.0V843.7H301.0V845.3H300.0V843.3H299.0V841.4H298.0V842.8H297.0V841.6H296.0V841.6H295.0V847.9H294.0V841.8H293.0V839.2H292.0V846.0H291.0V840.1H290.0V842.0H289.0V841.5H288.0V843.6H287.0V843.4H286.0V841.9H285.0V846.7H284.0V841.6H283.0V840.0H282.0V846.6H281.0V844.3H280.0V840.9H279.0V848.8H278.0V843.0H277.0V843.2H276.0V842.9H275.0V846.1H274.0V838.6H273.0V842.1H272.0V841.7H271.0V843.1H270.0V846.2H269.0V846.3H268.0V841.3H267.0V842.1H266.0V839.5H265.0V845.6H264.0V844.8H263.0V840.2H262.0V840.7H261.0V842.8H260.0V842.1H259.0V842.9H258.0V844.4H257.0V843.6H256.0V840.9H255.0V838.4H254.0V843.4H253.0V842.5H252.0V840.7H251.0V844.9H250.0V840.6H249.0V842.4H248.0V841.3H247.0V842.9H246.0V841.9H245.0V853.0H244.0V841.2H243.0V846.1H242.0V845.3H241.0V843.9H240.0V843.2H239.0V841.8H238.0V839.8H237.0V846.3H236.0V844.1H235.0V840.5H234.0V836.8H233.0V842.0H232.0V839.2H231.0V840.4H230.0V841.0H229.0V854.4H228.0V840.5H227.0V839.3H226.0V842.4H225.0V840.5H224.0V847.2H223.0V845.2H222.0V841.7H221.0V846.7H220.0V844.0H219.0V837.3H218.0V853.5H217.0V845.2H216.0V840.8H215.0V839.4H214.0V843.0H213.0V842.0H212.0V841.5H211.0V846.7H210.0V841.2H209.0V840.9H208.0V840.4H207.0V838.1H206.0V844.4H205.0V846.6H204.0V846.5H203.0V843.3H202.0V841.3H201.0V845.3H200.0V842.5H199.0V846.3H198.0V844.6H197.0V841.4H196.0V843.9H195.0V842.6H194.0V848.6H193.0V846.6H192.0V841.7H191.0V853.0H190.0V845.1H189.0V846.7H188.0V838.4H187.0V845.0H186.0V849.5H185.0V840.1H184.0V837.9H183.0V838.5H182.0V841.1H181.0V847.2H180.0V854.1H179.0V848.5H178.0V842.9H177.0V843.8H176.0V843.5H175.0V846.2H174.0V847.0H173.0V852.8H172.0V841.6H171.0V842.9H170.0V841.8H169.0V846.7H168.0V841.1H167.0V843.5H166.0V842.5H165.0V841.4H164.0V843.2H163.0V841.9H162.0V872.0H161.0V845.8H160.0V842.2H159.0V842.2H158.0V840.1H157.0V854.0H156.0V839.8H155.0V843.7H154.0V843.1H153.0V843.9H152.0V842.7H151.0V841.4H150.0V841.8H149.0V842.0H148.0V841.9H147.0V840.6H146.0V841.2H145.0V839.5H144.0V840.5H143.0V845.2H142.0V843.3H141.0V845.3H140.0V841.9H139.1Z"/>
<path class="bd" d="M471.0,794.0V794.0H472.0V791.5H473.0V795.8H474.0V788.8H475.0V785.9H476.0V787.0H477.0V796.0H478.0V790.6H479.0V794.0H480.0V794.4H481.0V792.0H482.0V786.5H483.0V792.9H484.0V778.0H485.0V796.7H486.0V795.6H487.0V794.6H488.0V790.4H489.0V795.4H490.0V793.3H491.0V787.1H492.0V796.5H493.0V788.4H494.0V793.8H495.0V781.0H496.0V792.6H497.0V786.5H498.0V789.3H499.0V787.5H500.0V794.7H501.0V791.4H502.0V796.3H503.0V784.0H504.0V792.6H505.0V791.5H506.0V786.6H507.0V792.5H508.0V791.2H509.0V797.5H510.0V784.6H511.0V794.3H512.0V790.4H513.0V794.3H514.0V791.2H515.0V794.3H516.0V792.1H517.0V795.6H518.0V793.7H519.0V796.1H520.0V795.4H521.0V795.8H522.0V776.0H523.0V794.7H524.0V793.6H525.0V792.5H526.0V798.2H527.0V787.3H528.0V793.1H529.0V794.8H530.0V794.8H531.0V792.8H532.0V789.4H533.0V789.1H534.0V789.8H535.0V791.5H536.0V790.0H537.0V794.9H538.0V793.3H539.0V788.6H540.0V797.1H541.0V794.0H542.0V792.4H543.0V797.2H544.0V793.9H544.8V845.9V845.9H544.0V845.4H543.0V846.8H542.0V844.3H541.0V848.1H540.0V845.1H539.0V848.3H538.0V843.1H537.0V851.6H536.0V846.9H535.0V847.3H534.0V842.3H533.0V852.2H532.0V845.1H531.0V845.0H530.0V845.9H529.0V847.0H528.0V845.7H527.0V845.4H526.0V844.4H525.0V846.9H524.0V848.4H523.0V843.8H522.0V839.9H521.0V843.7H520.0V848.5H519.0V847.7H518.0V844.2H517.0V849.3H516.0V846.0H515.0V847.4H514.0V842.4H513.0V843.3H512.0V847.6H511.0V844.2H510.0V849.4H509.0V847.2H508.0V845.1H507.0V844.6H506.0V846.7H505.0V845.6H504.0V849.4H503.0V846.5H502.0V846.9H501.0V843.5H500.0V844.8H499.0V849.7H498.0V845.8H497.0V842.5H496.0V844.3H495.0V844.4H494.0V854.4H493.0V842.7H492.0V847.9H491.0V845.8H490.0V847.8H489.0V845.4H488.0V857.1H487.0V848.7H486.0V847.0H485.0V845.6H484.0V842.0H483.0V849.4H482.0V844.5H481.0V842.8H480.0V864.0H479.0V846.9H478.0V850.7H477.0V844.4H476.0V842.8H475.0V846.3H474.0V844.1H473.0V846.4H472.0V849.1H471.0Z"/>
<path class="bd" d="M546.2,788.8V788.8H547.0V792.2H548.0V796.4H549.0V786.0H550.0V797.6H551.0V794.9H552.0V793.6H553.0V799.8H554.0V797.9H555.0V796.6H556.0V791.3H557.0V794.7H558.0V787.2H559.0V797.5H560.0V795.2H561.0V793.8H562.0V791.3H563.0V798.0H564.0V793.9H565.0V794.5H566.0V790.5H567.0V795.2H568.0V797.1H569.0V794.8H570.0V794.2H571.0V793.0H572.0V795.0H573.0V795.9H574.0V796.7H575.0V797.3H576.0V793.8H577.0V795.1H578.0V793.2H579.0V786.0H580.0V794.5H581.0V796.8H582.0V796.9H583.0V796.9H584.0V796.5H585.0V798.2H586.0V788.1H587.0V795.4H588.0V787.3H589.0V790.4H590.0V795.9H591.0V780.0H592.0V795.0H593.0V796.6H594.0V795.3H595.0V799.2H596.0V797.5H597.0V797.7H598.0V800.3H599.0V803.4H600.0V801.6H601.0V798.4H602.0V800.3H603.0V802.7H604.0V796.2H605.0V795.4H606.0V795.5H607.0V798.0H608.0V794.9H609.0V803.9H610.0V800.9H611.0V786.4H612.0V796.0H613.0V792.1H614.0V800.6H615.0V802.0H616.0V801.5H617.0V801.0H618.0V799.9H619.0V798.0H620.0V800.9H621.0V799.3H622.0V801.4H623.0V795.7H624.0V797.2H625.0V795.9H626.0V800.4H627.0V802.5H628.0V803.4H629.0V801.4H630.0V800.0H631.0V799.1H632.0V799.4H633.0V798.9H634.0V800.1H635.0V794.6H636.0V797.6H637.0V797.1H638.0V798.3H639.0V802.9H640.0V795.6H641.0V800.8H642.0V800.9H643.0V802.1H644.0V795.1H645.0V788.5H646.0V802.6H647.0V803.4H648.0V795.2H649.0V797.2H650.0V800.4H651.0V798.8H652.0V788.3H653.0V791.2H654.0V795.8H655.0V795.2H656.0V799.1H657.0V799.2H658.0V801.6H659.0V799.1H660.0V800.8H661.0V796.1H662.0V795.8H663.0V801.1H664.0V798.5H665.0V797.3H666.0V796.5H667.0V798.2H668.0V796.7H669.0V795.4H670.0V796.2H671.0V800.6H672.0V798.1H673.0V795.2H674.0V799.6H675.0V798.6H676.0V800.2H677.0V793.1H678.0V796.6H679.0V796.8H680.0V798.8H681.0V800.2H682.0V798.9H683.0V799.7H684.0V795.1H685.0V799.2H686.0V798.9H687.0V798.7H688.0V800.8H689.0V789.4H690.0V796.5H691.0V803.2H692.0V798.0H693.0V801.1H694.0V800.4H695.0V795.4H696.0V797.9H697.0V794.6H698.0V794.1H699.0V791.6H700.0V803.3H701.0V797.6H702.0V796.2H703.0V812.9H703.6V849.8V849.8H703.0V845.5H702.0V844.1H701.0V841.0H700.0V843.2H699.0V841.9H698.0V842.2H697.0V847.4H696.0V848.6H695.0V843.9H694.0V847.7H693.0V846.5H692.0V841.0H691.0V842.4H690.0V845.6H689.0V842.5H688.0V841.8H687.0V841.1H686.0V843.7H685.0V842.7H684.0V846.3H683.0V844.0H682.0V843.9H681.0V852.0H680.0V842.3H679.0V854.0H678.0V842.7H677.0V841.6H676.0V842.3H675.0V844.0H674.0V853.5H673.0V841.4H672.0V844.5H671.0V842.2H670.0V844.7H669.0V842.1H668.0V844.5H667.0V848.1H666.0V846.2H665.0V841.5H664.0V848.3H663.0V841.1H662.0V841.3H661.0V842.9H660.0V843.1H659.0V841.9H658.0V845.2H657.0V845.1H656.0V840.7H655.0V847.8H654.0V847.6H653.0V841.9H652.0V843.1H651.0V845.1H650.0V843.3H649.0V851.6H648.0V843.3H647.0V843.7H646.0V846.2H645.0V850.3H644.0V848.2H643.0V842.2H642.0V849.8H641.0V842.7H640.0V846.4H639.0V842.8H638.0V847.9H637.0V843.2H636.0V842.8H635.0V858.0H634.0V842.4H633.0V847.1H632.0V842.7H631.0V847.1H630.0V848.9H629.0V842.8H628.0V846.7H627.0V845.8H626.0V851.8H625.0V846.8H624.0V852.5H623.0V846.3H622.0V853.3H621.0V847.1H620.0V841.1H619.0V844.6H618.0V842.9H617.0V846.0H616.0V847.0H615.0V851.3H614.0V843.5H613.0V846.3H612.0V842.5H611.0V840.5H610.0V843.2H609.0V845.9H608.0V842.5H607.0V847.4H606.0V844.2H605.0V841.4H604.0V842.8H603.0V846.2H602.0V850.1H601.0V845.1H600.0V853.5H599.0V844.9H598.0V840.9H597.0V844.6H596.0V843.8H595.0V842.2H594.0V854.9H593.0V844.4H592.0V849.2H591.0V843.0H590.0V845.6H589.0V842.6H588.0V856.4H587.0V845.5H586.0V846.4H585.0V844.0H584.0V843.5H583.0V845.2H582.0V845.7H581.0V847.0H580.0V849.4H579.0V844.6H578.0V845.4H577.0V849.3H576.0V846.7H575.0V844.2H574.0V849.6H573.0V839.4H572.0V847.6H571.0V842.3H570.0V842.2H569.0V844.0H568.0V845.1H567.0V843.9H566.0V845.5H565.0V853.5H564.0V850.7H563.0V847.4H562.0V846.8H561.0V845.9H560.0V848.5H559.0V847.4H558.0V844.7H557.0V840.8H556.0V845.9H555.0V845.4H554.0V848.5H553.0V846.2H552.0V851.4H551.0V849.6H550.0V846.2H549.0V846.4H548.0V845.1H547.0V847.0H546.2Z"/>
<path class="ln" style="stroke-width:0.7" d="M468.2,821.8 L471.3,826.2"/>
<path class="ln" style="stroke-width:0.7" d="M544.5,816.6 L546.5,811.4"/>
</g>
<rect class="sp" x="111.5" y="109.5" width="620.0" height="110.0"/>
<rect class="sp" x="111.5" y="241.5" width="620.0" height="110.0"/>
<rect class="sp" x="111.5" y="373.5" width="620.0" height="110.0"/>
<rect class="sp" x="111.5" y="505.5" width="620.0" height="110.0"/>
<rect class="sp" x="111.5" y="637.5" width="620.0" height="110.0"/>
<rect class="sp" x="111.5" y="769.5" width="620.0" height="110.0"/>
<path class="ti" d="M118.45,220.0v8.1 M196.03,220.0v8.1 M273.61,220.0v8.1 M351.19,220.0v8.1 M428.77,220.0v8.1 M506.35,220.0v8.1 M583.93,220.0v8.1 M661.51,220.0v8.1 M118.45,352.0v8.1 M196.03,352.0v8.1 M273.61,352.0v8.1 M351.19,352.0v8.1 M428.77,352.0v8.1 M506.35,352.0v8.1 M583.93,352.0v8.1 M661.51,352.0v8.1 M118.45,484.0v8.1 M196.03,484.0v8.1 M273.61,484.0v8.1 M351.19,484.0v8.1 M428.77,484.0v8.1 M506.35,484.0v8.1 M583.93,484.0v8.1 M661.51,484.0v8.1 M118.45,616.0v8.1 M196.03,616.0v8.1 M273.61,616.0v8.1 M351.19,616.0v8.1 M428.77,616.0v8.1 M506.35,616.0v8.1 M583.93,616.0v8.1 M661.51,616.0v8.1 M118.45,748.0v8.1 M196.03,748.0v8.1 M273.61,748.0v8.1 M351.19,748.0v8.1 M428.77,748.0v8.1 M506.35,748.0v8.1 M583.93,748.0v8.1 M661.51,748.0v8.1 M118.45,880.0v8.1 M196.03,880.0v8.1 M273.61,880.0v8.1 M351.19,880.0v8.1 M428.77,880.0v8.1 M506.35,880.0v8.1 M583.93,880.0v8.1 M661.51,880.0v8.1"/>
<path class="ti" d="M111.0,137.45h-7.9 M111.0,192.50h-7.9 M111.0,241.50h-7.9 M111.0,296.50h-7.9 M111.0,351.50h-7.9 M111.0,406.40h-7.9 M111.0,470.30h-7.9 M111.0,527.50h-7.9 M111.0,571.50h-7.9 M111.0,615.50h-7.9 M111.0,659.50h-7.9 M111.0,703.50h-7.9 M111.0,747.50h-7.9 M111.0,785.20h-7.9 M111.0,824.50h-7.9 M111.0,863.80h-7.9"/>
<g opacity="0.999">
<text class="tk" transform="translate(98.00,142.50) scale(1.194,1)" text-anchor="end">0.066</text>
<text class="tk" transform="translate(98.00,197.55) scale(1.194,1)" text-anchor="end">0.064</text>
<text class="tk" transform="translate(98.00,246.55) scale(1.194,1)" text-anchor="end">0.00012</text>
<text class="tk" transform="translate(98.00,301.55) scale(1.194,1)" text-anchor="end">0.00011</text>
<text class="tk" transform="translate(98.00,356.55) scale(1.194,1)" text-anchor="end">0.00010</text>
<text class="tk" transform="translate(98.00,411.45) scale(1.194,1)" text-anchor="end">0.0017</text>
<text class="tk" transform="translate(98.00,475.35) scale(1.194,1)" text-anchor="end">0.0016</text>
<text class="tk" transform="translate(98.00,532.55) scale(1.194,1)" text-anchor="end">200</text>
<text class="tk" transform="translate(98.00,576.55) scale(1.194,1)" text-anchor="end">100</text>
<text class="tk" transform="translate(98.00,620.55) scale(1.194,1)" text-anchor="end">0</text>
<text class="tk" transform="translate(98.00,664.55) scale(1.200,1)" text-anchor="end">−0.5</text>
<text class="tk" transform="translate(98.00,708.55) scale(1.200,1)" text-anchor="end">−1.0</text>
<text class="tk" transform="translate(98.00,752.55) scale(1.200,1)" text-anchor="end">−1.5</text>
<text class="tk" transform="translate(98.00,790.25) scale(1.194,1)" text-anchor="end">2.5</text>
<text class="tk" transform="translate(98.00,829.55) scale(1.194,1)" text-anchor="end">0.0</text>
<text class="tk" transform="translate(98.00,868.85) scale(1.200,1)" text-anchor="end">−2.5</text>
<text class="tk" transform="translate(118.05,903.90) scale(1.194,1)" text-anchor="middle">55000</text>
<text class="tk" transform="translate(195.63,903.90) scale(1.194,1)" text-anchor="middle">55200</text>
<text class="tk" transform="translate(273.21,903.90) scale(1.194,1)" text-anchor="middle">55400</text>
<text class="tk" transform="translate(350.79,903.90) scale(1.194,1)" text-anchor="middle">55600</text>
<text class="tk" transform="translate(428.37,903.90) scale(1.194,1)" text-anchor="middle">55800</text>
<text class="tk" transform="translate(505.95,903.90) scale(1.194,1)" text-anchor="middle">56000</text>
<text class="tk" transform="translate(583.53,903.90) scale(1.194,1)" text-anchor="middle">56200</text>
<text class="tk" transform="translate(661.11,903.90) scale(1.194,1)" text-anchor="middle">56400</text>
<text transform="translate(409.9,23.0) scale(1.146,0.955)" text-anchor="middle" font-size="18" stroke="#000" stroke-width="0.15">000162</text>
<text transform="translate(420.1,930.6) scale(0.975,1)" text-anchor="middle" font-size="24.2">MJD</text>
<text class="ms" transform="translate(45.6,166.2) rotate(-90)" text-anchor="middle" font-size="23.5">g</text>
<text transform="translate(26.8,297.0) rotate(-90) scale(1.065,1)" text-anchor="middle" font-size="24"><tspan class="ms" font-size="23.5">σ</tspan><tspan class="mr" font-size="16.2" dy="3.6">0</tspan><tspan dy="-3.6"> [V]</tspan></text>
<text transform="translate(35.6,429.0) rotate(-90) scale(1.084,1)" text-anchor="middle" font-size="24"><tspan class="ms" font-size="23.5">σ</tspan><tspan class="mr" font-size="16.2" dy="3.6">0</tspan><tspan dy="-3.6"> [mK]</tspan></text>
<text transform="translate(57.8,561.0) rotate(-90) scale(1.10,1)" text-anchor="middle" font-size="24"><tspan class="ms" font-size="23.5">f</tspan><tspan class="mr" font-size="16.2" dy="3.6">knee</tspan><tspan dy="-3.6"> [mHz]</tspan></text>
<text class="ms" transform="translate(53.4,692.4) rotate(-90) scale(1.08,1)" text-anchor="middle" font-size="23.5">α</text>
<text transform="translate(49.6,826.0) rotate(-90) scale(1.10,1)" text-anchor="middle"><tspan class="ms" font-size="23.5">χ</tspan><tspan class="mr" font-size="16.2" dy="-8.4">2</tspan></text>
</g>
</svg>
</body></html>
